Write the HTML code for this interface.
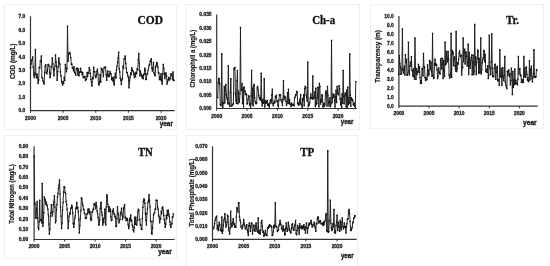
<!DOCTYPE html><html><head><meta charset="utf-8"><style>
html,body{margin:0;padding:0;background:#fff;width:550px;height:266px;overflow:hidden}
svg{display:block;filter:blur(0.3px)}
.t{font-family:"Liberation Sans",sans-serif;font-weight:bold;font-size:4.9px;fill:#1a1a1a;stroke:#1a1a1a;stroke-width:0.28}
.ti{font-family:"Liberation Serif",serif;font-weight:bold;font-size:11.5px;fill:#111;stroke:#111;stroke-width:0.3}
.yr{font-family:"Liberation Sans",sans-serif;font-weight:bold;font-size:7.8px;fill:#222;stroke:#222;stroke-width:0.4}
.yl{font-family:"Liberation Sans",sans-serif;font-weight:bold;font-size:6.3px;fill:#1a1a1a;stroke:#1a1a1a;stroke-width:0.2}
</style></head><body>
<svg width="550" height="266" viewBox="0 0 550 266">
<rect width="550" height="266" fill="#fff"/>
<rect x="4.5" y="4.5" width="172.0" height="125.0" fill="none" stroke="#f0f0f0" stroke-width="1"/>
<path d="M30.5 16.3V110.6H174.7" fill="none" stroke="#333" stroke-width="1.2"/>
<text x="25.3" y="112.3" text-anchor="end" class="t">0.0</text>
<text x="25.3" y="98.9" text-anchor="end" class="t">1.0</text>
<text x="25.3" y="85.4" text-anchor="end" class="t">2.0</text>
<text x="25.3" y="71.9" text-anchor="end" class="t">3.0</text>
<text x="25.3" y="58.5" text-anchor="end" class="t">4.0</text>
<text x="25.3" y="45.0" text-anchor="end" class="t">5.0</text>
<text x="25.3" y="31.5" text-anchor="end" class="t">6.0</text>
<text x="25.3" y="18.1" text-anchor="end" class="t">7.0</text>
<path d="M30.5 110.6v2.2" stroke="#222" stroke-width="0.9"/>
<text x="30.5" y="119.6" text-anchor="middle" class="t">2000</text>
<path d="M63.1 110.6v2.2" stroke="#222" stroke-width="0.9"/>
<text x="63.1" y="119.6" text-anchor="middle" class="t">2005</text>
<path d="M95.8 110.6v2.2" stroke="#222" stroke-width="0.9"/>
<text x="95.8" y="119.6" text-anchor="middle" class="t">2010</text>
<path d="M128.4 110.6v2.2" stroke="#222" stroke-width="0.9"/>
<text x="128.4" y="119.6" text-anchor="middle" class="t">2015</text>
<path d="M161.1 110.6v2.2" stroke="#222" stroke-width="0.9"/>
<text x="161.1" y="119.6" text-anchor="middle" class="t">2020</text>
<path d="M30.50 68.17 L31.04 63.73 L31.59 60.66 L32.13 59.64 L32.68 56.90 L33.22 67.04 L33.77 74.74 L34.31 77.66 L34.85 72.98 L35.40 49.39 L35.94 74.92 L36.49 77.92 L37.03 73.91 L37.57 77.56 L38.12 83.19 L38.66 79.98 L39.21 67.50 L39.75 68.17 L40.30 61.15 L40.84 60.96 L41.38 55.96 L41.93 77.56 L42.47 78.16 L43.02 80.96 L43.56 82.12 L44.10 84.13 L44.65 72.41 L45.19 66.29 L45.74 64.65 L46.28 72.85 L46.83 73.80 L47.37 71.23 L47.91 64.89 L48.46 64.41 L49.00 65.71 L49.55 72.66 L50.09 77.56 L50.63 73.51 L51.18 66.79 L51.72 66.79 L52.27 57.84 L52.81 64.02 L53.36 68.82 L53.90 75.68 L54.44 69.65 L54.99 66.10 L55.53 55.02 L56.08 62.26 L56.62 66.85 L57.16 80.38 L57.71 71.66 L58.25 66.65 L58.80 57.84 L59.34 62.54 L59.89 64.18 L60.43 71.82 L60.97 75.68 L61.52 81.14 L62.06 82.86 L62.61 85.07 L63.15 81.75 L63.69 83.33 L64.24 77.56 L64.78 80.38 L65.33 64.41 L65.87 68.03 L66.41 71.92 L66.96 68.83 L67.50 26.29 L68.05 61.32 L68.59 53.59 L69.14 53.15 L69.68 52.38 L70.22 54.08 L70.77 57.60 L71.31 64.41 L71.86 64.03 L72.40 68.37 L72.94 68.17 L73.49 70.91 L74.03 66.67 L74.58 72.66 L75.12 72.86 L75.67 75.38 L76.21 69.17 L76.75 68.17 L77.30 68.13 L77.84 74.73 L78.39 69.06 L78.93 75.68 L79.47 72.21 L80.02 72.08 L80.56 68.17 L81.11 71.95 L81.65 71.67 L82.20 74.74 L82.74 72.71 L83.28 77.54 L83.83 76.66 L84.37 77.56 L84.92 76.46 L85.46 80.43 L86.00 79.44 L86.55 78.91 L87.09 72.43 L87.64 76.46 L88.18 72.86 L88.73 73.08 L89.27 67.69 L89.81 70.05 L90.36 73.33 L90.90 79.39 L91.45 82.24 L91.99 86.01 L92.53 77.38 L93.08 78.80 L93.62 67.23 L94.17 71.67 L94.71 71.73 L95.26 76.12 L95.80 77.56 L96.34 75.59 L96.89 71.54 L97.43 69.11 L97.98 74.17 L98.52 84.22 L99.07 85.07 L99.61 81.44 L100.15 74.73 L100.70 82.25 L101.24 68.17 L101.79 69.93 L102.33 69.11 L102.87 71.92 L103.42 76.62 L103.96 68.17 L104.51 67.16 L105.05 67.23 L105.59 67.23 L106.14 74.49 L106.68 80.38 L107.23 75.96 L107.77 70.99 L108.32 75.02 L108.86 76.62 L109.40 76.30 L109.95 71.62 L110.49 73.80 L111.04 73.64 L111.58 79.44 L112.12 77.78 L112.67 80.87 L113.21 77.56 L113.76 82.91 L114.30 85.07 L114.85 76.62 L115.39 73.30 L115.93 78.01 L116.48 70.05 L117.02 66.49 L117.57 62.54 L118.11 57.86 L118.66 52.21 L119.20 68.68 L119.74 71.92 L120.29 78.31 L120.83 80.38 L121.38 84.63 L121.92 79.44 L122.46 78.59 L123.01 66.29 L123.55 68.40 L124.10 58.59 L124.64 58.78 L125.19 55.96 L125.73 63.46 L126.27 68.17 L126.82 72.74 L127.36 72.86 L127.91 75.68 L128.45 77.81 L128.99 87.89 L129.54 80.54 L130.08 77.56 L130.63 73.07 L131.17 74.74 L131.72 67.61 L132.26 70.05 L132.80 70.59 L133.35 71.92 L133.89 74.44 L134.44 77.56 L134.98 73.21 L135.52 76.62 L136.07 72.29 L136.61 73.80 L137.16 68.72 L137.70 70.05 L138.25 59.84 L138.79 53.52 L139.33 63.56 L139.88 75.68 L140.42 70.94 L140.97 73.80 L141.51 75.42 L142.05 77.56 L142.60 75.78 L143.14 78.80 L143.69 74.74 L144.23 73.95 L144.77 68.29 L145.32 70.05 L145.86 79.44 L146.41 79.39 L146.95 73.88 L147.50 73.80 L148.04 70.37 L148.58 68.17 L149.13 65.28 L149.67 64.41 L150.22 60.90 L150.76 61.63 L151.31 58.78 L151.85 68.07 L152.39 70.99 L152.94 68.23 L153.48 62.54 L154.03 72.75 L154.57 74.74 L155.11 75.88 L155.66 67.03 L156.20 65.35 L156.75 62.55 L157.29 63.47 L157.83 66.95 L158.38 72.86 L158.92 72.99 L159.47 79.44 L160.01 76.50 L160.56 79.70 L161.10 73.80 L161.64 80.80 L162.19 84.13 L162.73 74.40 L163.28 64.41 L163.82 68.59 L164.37 73.22 L164.91 78.50 L165.45 74.24 L166.00 72.86 L166.54 76.07 L167.09 84.13 L167.63 81.66 L168.17 79.55 L168.72 77.56 L169.26 80.01 L169.81 79.44 L170.35 78.12 L170.90 73.91 L171.44 73.80 L171.98 75.34 L172.53 79.44 L173.07 71.92 L173.62 80.50 L174.16 80.38" fill="none" stroke="#1c1c1c" stroke-width="0.95" stroke-linejoin="miter" stroke-miterlimit="3"/>
<path d="M29.80 67.47h1.4v1.4h-1.4zM30.34 63.03h1.4v1.4h-1.4zM30.89 59.96h1.4v1.4h-1.4zM31.43 58.94h1.4v1.4h-1.4zM31.98 56.20h1.4v1.4h-1.4zM32.52 66.34h1.4v1.4h-1.4zM33.06 74.04h1.4v1.4h-1.4zM33.61 76.96h1.4v1.4h-1.4zM34.15 72.28h1.4v1.4h-1.4zM34.70 48.69h1.4v1.4h-1.4zM35.24 74.22h1.4v1.4h-1.4zM35.79 77.22h1.4v1.4h-1.4zM36.33 73.21h1.4v1.4h-1.4zM36.87 76.86h1.4v1.4h-1.4zM37.42 82.49h1.4v1.4h-1.4zM37.96 79.28h1.4v1.4h-1.4zM38.51 66.80h1.4v1.4h-1.4zM39.05 67.47h1.4v1.4h-1.4zM39.59 60.45h1.4v1.4h-1.4zM40.14 60.26h1.4v1.4h-1.4zM40.68 55.26h1.4v1.4h-1.4zM41.23 76.86h1.4v1.4h-1.4zM41.77 77.46h1.4v1.4h-1.4zM42.32 80.26h1.4v1.4h-1.4zM42.86 81.42h1.4v1.4h-1.4zM43.40 83.43h1.4v1.4h-1.4zM43.95 71.71h1.4v1.4h-1.4zM44.49 65.59h1.4v1.4h-1.4zM45.04 63.95h1.4v1.4h-1.4zM45.58 72.15h1.4v1.4h-1.4zM46.12 73.10h1.4v1.4h-1.4zM46.67 70.53h1.4v1.4h-1.4zM47.21 64.19h1.4v1.4h-1.4zM47.76 63.71h1.4v1.4h-1.4zM48.30 65.01h1.4v1.4h-1.4zM48.85 71.96h1.4v1.4h-1.4zM49.39 76.86h1.4v1.4h-1.4zM49.93 72.81h1.4v1.4h-1.4zM50.48 66.09h1.4v1.4h-1.4zM51.02 66.09h1.4v1.4h-1.4zM51.57 57.14h1.4v1.4h-1.4zM52.11 63.32h1.4v1.4h-1.4zM52.66 68.12h1.4v1.4h-1.4zM53.20 74.98h1.4v1.4h-1.4zM53.74 68.95h1.4v1.4h-1.4zM54.29 65.40h1.4v1.4h-1.4zM54.83 54.32h1.4v1.4h-1.4zM55.38 61.56h1.4v1.4h-1.4zM55.92 66.15h1.4v1.4h-1.4zM56.46 79.68h1.4v1.4h-1.4zM57.01 70.96h1.4v1.4h-1.4zM57.55 65.95h1.4v1.4h-1.4zM58.10 57.14h1.4v1.4h-1.4zM58.64 61.84h1.4v1.4h-1.4zM59.19 63.48h1.4v1.4h-1.4zM59.73 71.12h1.4v1.4h-1.4zM60.27 74.98h1.4v1.4h-1.4zM60.82 80.44h1.4v1.4h-1.4zM61.36 82.16h1.4v1.4h-1.4zM61.91 84.37h1.4v1.4h-1.4zM62.45 81.05h1.4v1.4h-1.4zM62.99 82.63h1.4v1.4h-1.4zM63.54 76.86h1.4v1.4h-1.4zM64.08 79.68h1.4v1.4h-1.4zM64.63 63.71h1.4v1.4h-1.4zM65.17 67.33h1.4v1.4h-1.4zM65.71 71.22h1.4v1.4h-1.4zM66.26 68.13h1.4v1.4h-1.4zM66.80 25.59h1.4v1.4h-1.4zM67.35 60.62h1.4v1.4h-1.4zM67.89 52.89h1.4v1.4h-1.4zM68.44 52.45h1.4v1.4h-1.4zM68.98 51.68h1.4v1.4h-1.4zM69.52 53.38h1.4v1.4h-1.4zM70.07 56.90h1.4v1.4h-1.4zM70.61 63.71h1.4v1.4h-1.4zM71.16 63.33h1.4v1.4h-1.4zM71.70 67.67h1.4v1.4h-1.4zM72.24 67.47h1.4v1.4h-1.4zM72.79 70.21h1.4v1.4h-1.4zM73.33 65.97h1.4v1.4h-1.4zM73.88 71.96h1.4v1.4h-1.4zM74.42 72.16h1.4v1.4h-1.4zM74.97 74.68h1.4v1.4h-1.4zM75.51 68.47h1.4v1.4h-1.4zM76.05 67.47h1.4v1.4h-1.4zM76.60 67.43h1.4v1.4h-1.4zM77.14 74.03h1.4v1.4h-1.4zM77.69 68.36h1.4v1.4h-1.4zM78.23 74.98h1.4v1.4h-1.4zM78.77 71.51h1.4v1.4h-1.4zM79.32 71.38h1.4v1.4h-1.4zM79.86 67.47h1.4v1.4h-1.4zM80.41 71.25h1.4v1.4h-1.4zM80.95 70.97h1.4v1.4h-1.4zM81.50 74.04h1.4v1.4h-1.4zM82.04 72.01h1.4v1.4h-1.4zM82.58 76.84h1.4v1.4h-1.4zM83.13 75.96h1.4v1.4h-1.4zM83.67 76.86h1.4v1.4h-1.4zM84.22 75.76h1.4v1.4h-1.4zM84.76 79.73h1.4v1.4h-1.4zM85.30 78.74h1.4v1.4h-1.4zM85.85 78.21h1.4v1.4h-1.4zM86.39 71.73h1.4v1.4h-1.4zM86.94 75.76h1.4v1.4h-1.4zM87.48 72.16h1.4v1.4h-1.4zM88.03 72.38h1.4v1.4h-1.4zM88.57 66.99h1.4v1.4h-1.4zM89.11 69.35h1.4v1.4h-1.4zM89.66 72.63h1.4v1.4h-1.4zM90.20 78.69h1.4v1.4h-1.4zM90.75 81.54h1.4v1.4h-1.4zM91.29 85.31h1.4v1.4h-1.4zM91.83 76.68h1.4v1.4h-1.4zM92.38 78.10h1.4v1.4h-1.4zM92.92 66.53h1.4v1.4h-1.4zM93.47 70.97h1.4v1.4h-1.4zM94.01 71.03h1.4v1.4h-1.4zM94.56 75.42h1.4v1.4h-1.4zM95.10 76.86h1.4v1.4h-1.4zM95.64 74.89h1.4v1.4h-1.4zM96.19 70.84h1.4v1.4h-1.4zM96.73 68.41h1.4v1.4h-1.4zM97.28 73.47h1.4v1.4h-1.4zM97.82 83.52h1.4v1.4h-1.4zM98.37 84.37h1.4v1.4h-1.4zM98.91 80.74h1.4v1.4h-1.4zM99.45 74.03h1.4v1.4h-1.4zM100.00 81.55h1.4v1.4h-1.4zM100.54 67.47h1.4v1.4h-1.4zM101.09 69.23h1.4v1.4h-1.4zM101.63 68.41h1.4v1.4h-1.4zM102.17 71.22h1.4v1.4h-1.4zM102.72 75.92h1.4v1.4h-1.4zM103.26 67.47h1.4v1.4h-1.4zM103.81 66.46h1.4v1.4h-1.4zM104.35 66.53h1.4v1.4h-1.4zM104.89 66.53h1.4v1.4h-1.4zM105.44 73.79h1.4v1.4h-1.4zM105.98 79.68h1.4v1.4h-1.4zM106.53 75.26h1.4v1.4h-1.4zM107.07 70.29h1.4v1.4h-1.4zM107.62 74.32h1.4v1.4h-1.4zM108.16 75.92h1.4v1.4h-1.4zM108.70 75.60h1.4v1.4h-1.4zM109.25 70.92h1.4v1.4h-1.4zM109.79 73.10h1.4v1.4h-1.4zM110.34 72.94h1.4v1.4h-1.4zM110.88 78.74h1.4v1.4h-1.4zM111.42 77.08h1.4v1.4h-1.4zM111.97 80.17h1.4v1.4h-1.4zM112.51 76.86h1.4v1.4h-1.4zM113.06 82.21h1.4v1.4h-1.4zM113.60 84.37h1.4v1.4h-1.4zM114.15 75.92h1.4v1.4h-1.4zM114.69 72.60h1.4v1.4h-1.4zM115.23 77.31h1.4v1.4h-1.4zM115.78 69.35h1.4v1.4h-1.4zM116.32 65.79h1.4v1.4h-1.4zM116.87 61.84h1.4v1.4h-1.4zM117.41 57.16h1.4v1.4h-1.4zM117.96 51.51h1.4v1.4h-1.4zM118.50 67.98h1.4v1.4h-1.4zM119.04 71.22h1.4v1.4h-1.4zM119.59 77.61h1.4v1.4h-1.4zM120.13 79.68h1.4v1.4h-1.4zM120.68 83.93h1.4v1.4h-1.4zM121.22 78.74h1.4v1.4h-1.4zM121.76 77.89h1.4v1.4h-1.4zM122.31 65.59h1.4v1.4h-1.4zM122.85 67.70h1.4v1.4h-1.4zM123.40 57.89h1.4v1.4h-1.4zM123.94 58.08h1.4v1.4h-1.4zM124.48 55.26h1.4v1.4h-1.4zM125.03 62.76h1.4v1.4h-1.4zM125.57 67.47h1.4v1.4h-1.4zM126.12 72.04h1.4v1.4h-1.4zM126.66 72.16h1.4v1.4h-1.4zM127.21 74.98h1.4v1.4h-1.4zM127.75 77.11h1.4v1.4h-1.4zM128.29 87.19h1.4v1.4h-1.4zM128.84 79.84h1.4v1.4h-1.4zM129.38 76.86h1.4v1.4h-1.4zM129.93 72.37h1.4v1.4h-1.4zM130.47 74.04h1.4v1.4h-1.4zM131.02 66.91h1.4v1.4h-1.4zM131.56 69.35h1.4v1.4h-1.4zM132.10 69.89h1.4v1.4h-1.4zM132.65 71.22h1.4v1.4h-1.4zM133.19 73.74h1.4v1.4h-1.4zM133.74 76.86h1.4v1.4h-1.4zM134.28 72.51h1.4v1.4h-1.4zM134.82 75.92h1.4v1.4h-1.4zM135.37 71.59h1.4v1.4h-1.4zM135.91 73.10h1.4v1.4h-1.4zM136.46 68.02h1.4v1.4h-1.4zM137.00 69.35h1.4v1.4h-1.4zM137.55 59.14h1.4v1.4h-1.4zM138.09 52.82h1.4v1.4h-1.4zM138.63 62.86h1.4v1.4h-1.4zM139.18 74.98h1.4v1.4h-1.4zM139.72 70.24h1.4v1.4h-1.4zM140.27 73.10h1.4v1.4h-1.4zM140.81 74.72h1.4v1.4h-1.4zM141.35 76.86h1.4v1.4h-1.4zM141.90 75.08h1.4v1.4h-1.4zM142.44 78.10h1.4v1.4h-1.4zM142.99 74.04h1.4v1.4h-1.4zM143.53 73.25h1.4v1.4h-1.4zM144.07 67.59h1.4v1.4h-1.4zM144.62 69.35h1.4v1.4h-1.4zM145.16 78.74h1.4v1.4h-1.4zM145.71 78.69h1.4v1.4h-1.4zM146.25 73.18h1.4v1.4h-1.4zM146.80 73.10h1.4v1.4h-1.4zM147.34 69.67h1.4v1.4h-1.4zM147.88 67.47h1.4v1.4h-1.4zM148.43 64.58h1.4v1.4h-1.4zM148.97 63.71h1.4v1.4h-1.4zM149.52 60.20h1.4v1.4h-1.4zM150.06 60.93h1.4v1.4h-1.4zM150.61 58.08h1.4v1.4h-1.4zM151.15 67.37h1.4v1.4h-1.4zM151.69 70.29h1.4v1.4h-1.4zM152.24 67.53h1.4v1.4h-1.4zM152.78 61.84h1.4v1.4h-1.4zM153.33 72.05h1.4v1.4h-1.4zM153.87 74.04h1.4v1.4h-1.4zM154.41 75.18h1.4v1.4h-1.4zM154.96 66.33h1.4v1.4h-1.4zM155.50 64.65h1.4v1.4h-1.4zM156.05 61.85h1.4v1.4h-1.4zM156.59 62.77h1.4v1.4h-1.4zM157.13 66.25h1.4v1.4h-1.4zM157.68 72.16h1.4v1.4h-1.4zM158.22 72.29h1.4v1.4h-1.4zM158.77 78.74h1.4v1.4h-1.4zM159.31 75.80h1.4v1.4h-1.4zM159.86 79.00h1.4v1.4h-1.4zM160.40 73.10h1.4v1.4h-1.4zM160.94 80.10h1.4v1.4h-1.4zM161.49 83.43h1.4v1.4h-1.4zM162.03 73.70h1.4v1.4h-1.4zM162.58 63.71h1.4v1.4h-1.4zM163.12 67.89h1.4v1.4h-1.4zM163.67 72.52h1.4v1.4h-1.4zM164.21 77.80h1.4v1.4h-1.4zM164.75 73.54h1.4v1.4h-1.4zM165.30 72.16h1.4v1.4h-1.4zM165.84 75.37h1.4v1.4h-1.4zM166.39 83.43h1.4v1.4h-1.4zM166.93 80.96h1.4v1.4h-1.4zM167.47 78.85h1.4v1.4h-1.4zM168.02 76.86h1.4v1.4h-1.4zM168.56 79.31h1.4v1.4h-1.4zM169.11 78.74h1.4v1.4h-1.4zM169.65 77.42h1.4v1.4h-1.4zM170.20 73.21h1.4v1.4h-1.4zM170.74 73.10h1.4v1.4h-1.4zM171.28 74.64h1.4v1.4h-1.4zM171.83 78.74h1.4v1.4h-1.4zM172.37 71.22h1.4v1.4h-1.4zM172.92 79.80h1.4v1.4h-1.4zM173.46 79.68h1.4v1.4h-1.4z" fill="#111"/>
<text x="137.5" y="23.6" class="ti" textLength="25.4" lengthAdjust="spacingAndGlyphs">COD</text>
<text x="159.7" y="126.1" class="yr" textLength="13.2" lengthAdjust="spacingAndGlyphs">year</text>
<text transform="translate(12.8 61.3) rotate(-90)" dy="0.36em" text-anchor="middle" class="yl" textLength="35.6" lengthAdjust="spacingAndGlyphs">COD (mg/L)</text>
<rect x="186" y="4.5" width="173.5" height="125.0" fill="none" stroke="#f0f0f0" stroke-width="1"/>
<path d="M216.7 14.5V108.5H357.0" fill="none" stroke="#333" stroke-width="1.2"/>
<text x="211.6" y="110.2" text-anchor="end" class="t">0.000</text>
<text x="211.6" y="96.8" text-anchor="end" class="t">0.005</text>
<text x="211.6" y="83.4" text-anchor="end" class="t">0.010</text>
<text x="211.6" y="70.0" text-anchor="end" class="t">0.015</text>
<text x="211.6" y="56.5" text-anchor="end" class="t">0.020</text>
<text x="211.6" y="43.1" text-anchor="end" class="t">0.025</text>
<text x="211.6" y="29.7" text-anchor="end" class="t">0.030</text>
<text x="211.6" y="16.2" text-anchor="end" class="t">0.035</text>
<path d="M216.7 108.5v2.2" stroke="#222" stroke-width="0.9"/>
<text x="216.7" y="117.5" text-anchor="middle" class="t">2000</text>
<path d="M247.0 108.5v2.2" stroke="#222" stroke-width="0.9"/>
<text x="247.0" y="117.5" text-anchor="middle" class="t">2005</text>
<path d="M277.4 108.5v2.2" stroke="#222" stroke-width="0.9"/>
<text x="277.4" y="117.5" text-anchor="middle" class="t">2010</text>
<path d="M307.8 108.5v2.2" stroke="#222" stroke-width="0.9"/>
<text x="307.8" y="117.5" text-anchor="middle" class="t">2015</text>
<path d="M338.1 108.5v2.2" stroke="#222" stroke-width="0.9"/>
<text x="338.1" y="117.5" text-anchor="middle" class="t">2020</text>
<path d="M217.71 97.62 L218.22 82.57 L218.72 78.36 L219.23 78.81 L219.73 84.06 L220.24 104.33 L220.75 105.15 L221.25 105.64 L221.76 53.79 L222.26 102.32 L222.77 107.23 L223.28 103.27 L223.78 103.66 L224.29 86.34 L224.79 102.91 L225.30 90.26 L225.80 84.45 L226.31 94.45 L226.82 97.62 L227.32 99.42 L227.83 103.92 L228.33 65.64 L228.84 103.93 L229.35 103.27 L229.85 106.36 L230.36 92.49 L230.86 78.81 L231.37 106.09 L231.88 105.69 L232.38 105.15 L232.89 104.43 L233.39 103.49 L233.90 68.47 L234.40 69.31 L234.91 67.52 L235.42 93.51 L235.92 100.44 L236.43 103.28 L236.93 80.82 L237.44 70.35 L237.94 103.71 L238.45 91.14 L238.96 99.50 L239.46 102.37 L239.97 93.53 L240.47 27.46 L240.98 90.60 L241.49 90.10 L241.99 83.53 L242.50 103.51 L243.00 88.22 L243.51 106.70 L244.01 86.90 L244.52 91.69 L245.03 91.04 L245.53 94.51 L246.04 93.62 L246.54 94.80 L247.05 103.95 L247.56 103.27 L248.06 99.54 L248.57 95.74 L249.07 96.89 L249.58 105.15 L250.08 103.87 L250.59 106.95 L251.10 95.85 L251.60 70.35 L252.11 104.16 L252.61 88.22 L253.12 105.69 L253.63 86.03 L254.13 84.45 L254.64 97.90 L255.14 101.38 L255.65 103.26 L256.15 103.91 L256.66 103.07 L257.17 87.90 L257.67 86.34 L258.18 89.88 L258.68 95.56 L259.19 97.62 L259.70 99.51 L260.20 97.33 L260.71 100.05 L261.21 73.17 L261.72 101.34 L262.23 105.88 L262.73 99.50 L263.24 103.20 L263.74 102.57 L264.25 78.81 L264.75 106.96 L265.26 100.69 L265.77 103.27 L266.27 101.69 L266.78 102.47 L267.28 100.44 L267.79 105.18 L268.29 104.04 L268.80 105.15 L269.31 107.15 L269.81 103.48 L270.32 100.44 L270.82 99.65 L271.33 102.73 L271.84 95.19 L272.34 89.16 L272.85 103.63 L273.35 105.79 L273.86 103.27 L274.37 101.03 L274.87 102.62 L275.38 96.33 L275.88 97.62 L276.39 95.29 L276.89 101.52 L277.40 101.07 L277.91 105.15 L278.41 106.90 L278.92 100.28 L279.42 94.73 L279.93 94.80 L280.44 94.75 L280.94 100.06 L281.45 100.44 L281.95 102.30 L282.46 105.63 L282.96 99.33 L283.47 80.69 L283.98 99.83 L284.48 96.32 L284.99 97.62 L285.49 97.26 L286.00 101.38 L286.50 105.22 L287.01 101.38 L287.52 92.60 L288.02 103.58 L288.53 89.16 L289.03 103.21 L289.54 99.55 L290.05 104.33 L290.55 104.21 L291.06 106.52 L291.56 103.06 L292.07 105.10 L292.57 105.15 L293.08 104.87 L293.59 104.22 L294.09 105.91 L294.60 97.62 L295.10 97.13 L295.61 94.80 L296.12 95.09 L296.62 91.57 L297.13 91.98 L297.63 103.85 L298.14 102.60 L298.64 105.15 L299.15 104.73 L299.66 99.15 L300.16 103.33 L300.67 94.80 L301.17 104.32 L301.68 105.15 L302.19 107.60 L302.69 98.46 L303.20 100.38 L303.70 94.80 L304.21 105.79 L304.71 88.59 L305.22 86.34 L305.73 87.59 L306.23 95.10 L306.74 97.62 L307.24 101.37 L307.75 62.26 L308.26 106.43 L308.76 104.19 L309.27 105.15 L309.77 102.65 L310.28 98.18 L310.78 93.86 L311.29 97.78 L311.80 97.62 L312.30 99.05 L312.81 75.99 L313.31 98.90 L313.82 97.32 L314.33 97.62 L314.83 92.04 L315.34 106.44 L315.84 88.22 L316.35 104.62 L316.86 103.27 L317.36 97.72 L317.87 87.28 L318.37 87.81 L318.88 106.77 L319.38 83.51 L319.89 86.45 L320.40 104.16 L320.90 99.50 L321.41 102.00 L321.91 94.82 L322.42 95.74 L322.93 107.17 L323.43 105.19 L323.94 103.27 L324.44 106.38 L324.95 104.13 L325.45 93.86 L325.96 90.90 L326.47 92.71 L326.97 106.00 L327.48 86.34 L327.98 95.51 L328.49 102.50 L329.00 106.09 L329.50 101.55 L330.01 97.62 L330.51 106.62 L331.02 103.69 L331.52 40.44 L332.03 102.64 L332.54 97.68 L333.04 93.86 L333.55 97.04 L334.05 94.58 L334.56 101.38 L335.06 107.08 L335.57 96.68 L336.08 90.10 L336.58 102.50 L337.09 86.41 L337.59 93.39 L338.10 93.86 L338.61 94.82 L339.11 85.71 L339.62 89.16 L340.12 98.49 L340.63 105.15 L341.13 98.57 L341.64 107.24 L342.15 93.86 L342.65 103.06 L343.16 70.35 L343.66 96.37 L344.17 103.72 L344.68 95.74 L345.18 93.04 L345.69 93.99 L346.19 106.97 L346.70 90.10 L347.21 107.18 L347.71 87.28 L348.22 104.91 L348.72 97.62 L349.23 103.44 L349.73 53.98 L350.24 94.94 L350.75 106.41 L351.25 97.62 L351.76 99.70 L352.26 99.22 L352.77 100.44 L353.27 104.33 L353.78 105.15 L354.29 102.93 L354.79 106.21 L355.30 107.09 L355.80 81.63" fill="none" stroke="#1c1c1c" stroke-width="0.95" stroke-linejoin="miter" stroke-miterlimit="3"/>
<path d="M217.01 96.92h1.4v1.4h-1.4zM217.52 81.87h1.4v1.4h-1.4zM218.02 77.66h1.4v1.4h-1.4zM218.53 78.11h1.4v1.4h-1.4zM219.03 83.36h1.4v1.4h-1.4zM219.54 103.63h1.4v1.4h-1.4zM220.05 104.45h1.4v1.4h-1.4zM220.55 104.94h1.4v1.4h-1.4zM221.06 53.09h1.4v1.4h-1.4zM221.56 101.62h1.4v1.4h-1.4zM222.07 106.53h1.4v1.4h-1.4zM222.58 102.57h1.4v1.4h-1.4zM223.08 102.96h1.4v1.4h-1.4zM223.59 85.64h1.4v1.4h-1.4zM224.09 102.21h1.4v1.4h-1.4zM224.60 89.56h1.4v1.4h-1.4zM225.10 83.75h1.4v1.4h-1.4zM225.61 93.75h1.4v1.4h-1.4zM226.12 96.92h1.4v1.4h-1.4zM226.62 98.72h1.4v1.4h-1.4zM227.13 103.22h1.4v1.4h-1.4zM227.63 64.94h1.4v1.4h-1.4zM228.14 103.23h1.4v1.4h-1.4zM228.65 102.57h1.4v1.4h-1.4zM229.15 105.66h1.4v1.4h-1.4zM229.66 91.79h1.4v1.4h-1.4zM230.16 78.11h1.4v1.4h-1.4zM230.67 105.39h1.4v1.4h-1.4zM231.18 104.99h1.4v1.4h-1.4zM231.68 104.45h1.4v1.4h-1.4zM232.19 103.73h1.4v1.4h-1.4zM232.69 102.79h1.4v1.4h-1.4zM233.20 67.77h1.4v1.4h-1.4zM233.70 68.61h1.4v1.4h-1.4zM234.21 66.82h1.4v1.4h-1.4zM234.72 92.81h1.4v1.4h-1.4zM235.22 99.74h1.4v1.4h-1.4zM235.73 102.58h1.4v1.4h-1.4zM236.23 80.12h1.4v1.4h-1.4zM236.74 69.65h1.4v1.4h-1.4zM237.25 103.01h1.4v1.4h-1.4zM237.75 90.44h1.4v1.4h-1.4zM238.26 98.80h1.4v1.4h-1.4zM238.76 101.67h1.4v1.4h-1.4zM239.27 92.83h1.4v1.4h-1.4zM239.77 26.76h1.4v1.4h-1.4zM240.28 89.90h1.4v1.4h-1.4zM240.79 89.40h1.4v1.4h-1.4zM241.29 82.83h1.4v1.4h-1.4zM241.80 102.81h1.4v1.4h-1.4zM242.30 87.52h1.4v1.4h-1.4zM242.81 106.00h1.4v1.4h-1.4zM243.31 86.20h1.4v1.4h-1.4zM243.82 90.99h1.4v1.4h-1.4zM244.33 90.34h1.4v1.4h-1.4zM244.83 93.81h1.4v1.4h-1.4zM245.34 92.92h1.4v1.4h-1.4zM245.84 94.10h1.4v1.4h-1.4zM246.35 103.25h1.4v1.4h-1.4zM246.86 102.57h1.4v1.4h-1.4zM247.36 98.84h1.4v1.4h-1.4zM247.87 95.04h1.4v1.4h-1.4zM248.37 96.19h1.4v1.4h-1.4zM248.88 104.45h1.4v1.4h-1.4zM249.38 103.17h1.4v1.4h-1.4zM249.89 106.25h1.4v1.4h-1.4zM250.40 95.15h1.4v1.4h-1.4zM250.90 69.65h1.4v1.4h-1.4zM251.41 103.46h1.4v1.4h-1.4zM251.91 87.52h1.4v1.4h-1.4zM252.42 104.99h1.4v1.4h-1.4zM252.93 85.33h1.4v1.4h-1.4zM253.43 83.75h1.4v1.4h-1.4zM253.94 97.20h1.4v1.4h-1.4zM254.44 100.68h1.4v1.4h-1.4zM254.95 102.56h1.4v1.4h-1.4zM255.45 103.21h1.4v1.4h-1.4zM255.96 102.37h1.4v1.4h-1.4zM256.47 87.20h1.4v1.4h-1.4zM256.97 85.64h1.4v1.4h-1.4zM257.48 89.18h1.4v1.4h-1.4zM257.98 94.86h1.4v1.4h-1.4zM258.49 96.92h1.4v1.4h-1.4zM259.00 98.81h1.4v1.4h-1.4zM259.50 96.63h1.4v1.4h-1.4zM260.01 99.35h1.4v1.4h-1.4zM260.51 72.47h1.4v1.4h-1.4zM261.02 100.64h1.4v1.4h-1.4zM261.53 105.18h1.4v1.4h-1.4zM262.03 98.80h1.4v1.4h-1.4zM262.54 102.50h1.4v1.4h-1.4zM263.04 101.87h1.4v1.4h-1.4zM263.55 78.11h1.4v1.4h-1.4zM264.05 106.26h1.4v1.4h-1.4zM264.56 99.99h1.4v1.4h-1.4zM265.07 102.57h1.4v1.4h-1.4zM265.57 100.99h1.4v1.4h-1.4zM266.08 101.77h1.4v1.4h-1.4zM266.58 99.74h1.4v1.4h-1.4zM267.09 104.48h1.4v1.4h-1.4zM267.59 103.34h1.4v1.4h-1.4zM268.10 104.45h1.4v1.4h-1.4zM268.61 106.45h1.4v1.4h-1.4zM269.11 102.78h1.4v1.4h-1.4zM269.62 99.74h1.4v1.4h-1.4zM270.12 98.95h1.4v1.4h-1.4zM270.63 102.03h1.4v1.4h-1.4zM271.14 94.49h1.4v1.4h-1.4zM271.64 88.46h1.4v1.4h-1.4zM272.15 102.93h1.4v1.4h-1.4zM272.65 105.09h1.4v1.4h-1.4zM273.16 102.57h1.4v1.4h-1.4zM273.67 100.33h1.4v1.4h-1.4zM274.17 101.92h1.4v1.4h-1.4zM274.68 95.63h1.4v1.4h-1.4zM275.18 96.92h1.4v1.4h-1.4zM275.69 94.59h1.4v1.4h-1.4zM276.19 100.82h1.4v1.4h-1.4zM276.70 100.37h1.4v1.4h-1.4zM277.21 104.45h1.4v1.4h-1.4zM277.71 106.20h1.4v1.4h-1.4zM278.22 99.58h1.4v1.4h-1.4zM278.72 94.03h1.4v1.4h-1.4zM279.23 94.10h1.4v1.4h-1.4zM279.74 94.05h1.4v1.4h-1.4zM280.24 99.36h1.4v1.4h-1.4zM280.75 99.74h1.4v1.4h-1.4zM281.25 101.60h1.4v1.4h-1.4zM281.76 104.93h1.4v1.4h-1.4zM282.26 98.63h1.4v1.4h-1.4zM282.77 79.99h1.4v1.4h-1.4zM283.28 99.13h1.4v1.4h-1.4zM283.78 95.62h1.4v1.4h-1.4zM284.29 96.92h1.4v1.4h-1.4zM284.79 96.56h1.4v1.4h-1.4zM285.30 100.68h1.4v1.4h-1.4zM285.81 104.52h1.4v1.4h-1.4zM286.31 100.68h1.4v1.4h-1.4zM286.82 91.90h1.4v1.4h-1.4zM287.32 102.88h1.4v1.4h-1.4zM287.83 88.46h1.4v1.4h-1.4zM288.33 102.51h1.4v1.4h-1.4zM288.84 98.85h1.4v1.4h-1.4zM289.35 103.63h1.4v1.4h-1.4zM289.85 103.51h1.4v1.4h-1.4zM290.36 105.82h1.4v1.4h-1.4zM290.86 102.36h1.4v1.4h-1.4zM291.37 104.40h1.4v1.4h-1.4zM291.88 104.45h1.4v1.4h-1.4zM292.38 104.17h1.4v1.4h-1.4zM292.89 103.52h1.4v1.4h-1.4zM293.39 105.21h1.4v1.4h-1.4zM293.90 96.92h1.4v1.4h-1.4zM294.40 96.43h1.4v1.4h-1.4zM294.91 94.10h1.4v1.4h-1.4zM295.42 94.39h1.4v1.4h-1.4zM295.92 90.87h1.4v1.4h-1.4zM296.43 91.28h1.4v1.4h-1.4zM296.93 103.15h1.4v1.4h-1.4zM297.44 101.90h1.4v1.4h-1.4zM297.94 104.45h1.4v1.4h-1.4zM298.45 104.03h1.4v1.4h-1.4zM298.96 98.45h1.4v1.4h-1.4zM299.46 102.63h1.4v1.4h-1.4zM299.97 94.10h1.4v1.4h-1.4zM300.47 103.62h1.4v1.4h-1.4zM300.98 104.45h1.4v1.4h-1.4zM301.49 106.90h1.4v1.4h-1.4zM301.99 97.76h1.4v1.4h-1.4zM302.50 99.68h1.4v1.4h-1.4zM303.00 94.10h1.4v1.4h-1.4zM303.51 105.09h1.4v1.4h-1.4zM304.01 87.89h1.4v1.4h-1.4zM304.52 85.64h1.4v1.4h-1.4zM305.03 86.89h1.4v1.4h-1.4zM305.53 94.40h1.4v1.4h-1.4zM306.04 96.92h1.4v1.4h-1.4zM306.54 100.67h1.4v1.4h-1.4zM307.05 61.56h1.4v1.4h-1.4zM307.56 105.73h1.4v1.4h-1.4zM308.06 103.49h1.4v1.4h-1.4zM308.57 104.45h1.4v1.4h-1.4zM309.07 101.95h1.4v1.4h-1.4zM309.58 97.48h1.4v1.4h-1.4zM310.08 93.16h1.4v1.4h-1.4zM310.59 97.08h1.4v1.4h-1.4zM311.10 96.92h1.4v1.4h-1.4zM311.60 98.35h1.4v1.4h-1.4zM312.11 75.29h1.4v1.4h-1.4zM312.61 98.20h1.4v1.4h-1.4zM313.12 96.62h1.4v1.4h-1.4zM313.63 96.92h1.4v1.4h-1.4zM314.13 91.34h1.4v1.4h-1.4zM314.64 105.74h1.4v1.4h-1.4zM315.14 87.52h1.4v1.4h-1.4zM315.65 103.92h1.4v1.4h-1.4zM316.16 102.57h1.4v1.4h-1.4zM316.66 97.02h1.4v1.4h-1.4zM317.17 86.58h1.4v1.4h-1.4zM317.67 87.11h1.4v1.4h-1.4zM318.18 106.07h1.4v1.4h-1.4zM318.68 82.81h1.4v1.4h-1.4zM319.19 85.75h1.4v1.4h-1.4zM319.70 103.46h1.4v1.4h-1.4zM320.20 98.80h1.4v1.4h-1.4zM320.71 101.30h1.4v1.4h-1.4zM321.21 94.12h1.4v1.4h-1.4zM321.72 95.04h1.4v1.4h-1.4zM322.23 106.47h1.4v1.4h-1.4zM322.73 104.49h1.4v1.4h-1.4zM323.24 102.57h1.4v1.4h-1.4zM323.74 105.68h1.4v1.4h-1.4zM324.25 103.43h1.4v1.4h-1.4zM324.75 93.16h1.4v1.4h-1.4zM325.26 90.20h1.4v1.4h-1.4zM325.77 92.01h1.4v1.4h-1.4zM326.27 105.30h1.4v1.4h-1.4zM326.78 85.64h1.4v1.4h-1.4zM327.28 94.81h1.4v1.4h-1.4zM327.79 101.80h1.4v1.4h-1.4zM328.30 105.39h1.4v1.4h-1.4zM328.80 100.85h1.4v1.4h-1.4zM329.31 96.92h1.4v1.4h-1.4zM329.81 105.92h1.4v1.4h-1.4zM330.32 102.99h1.4v1.4h-1.4zM330.82 39.74h1.4v1.4h-1.4zM331.33 101.94h1.4v1.4h-1.4zM331.84 96.98h1.4v1.4h-1.4zM332.34 93.16h1.4v1.4h-1.4zM332.85 96.34h1.4v1.4h-1.4zM333.35 93.88h1.4v1.4h-1.4zM333.86 100.68h1.4v1.4h-1.4zM334.37 106.38h1.4v1.4h-1.4zM334.87 95.98h1.4v1.4h-1.4zM335.38 89.40h1.4v1.4h-1.4zM335.88 101.80h1.4v1.4h-1.4zM336.39 85.71h1.4v1.4h-1.4zM336.89 92.69h1.4v1.4h-1.4zM337.40 93.16h1.4v1.4h-1.4zM337.91 94.12h1.4v1.4h-1.4zM338.41 85.01h1.4v1.4h-1.4zM338.92 88.46h1.4v1.4h-1.4zM339.42 97.79h1.4v1.4h-1.4zM339.93 104.45h1.4v1.4h-1.4zM340.44 97.87h1.4v1.4h-1.4zM340.94 106.54h1.4v1.4h-1.4zM341.45 93.16h1.4v1.4h-1.4zM341.95 102.36h1.4v1.4h-1.4zM342.46 69.65h1.4v1.4h-1.4zM342.96 95.67h1.4v1.4h-1.4zM343.47 103.02h1.4v1.4h-1.4zM343.98 95.04h1.4v1.4h-1.4zM344.48 92.34h1.4v1.4h-1.4zM344.99 93.29h1.4v1.4h-1.4zM345.49 106.27h1.4v1.4h-1.4zM346.00 89.40h1.4v1.4h-1.4zM346.51 106.48h1.4v1.4h-1.4zM347.01 86.58h1.4v1.4h-1.4zM347.52 104.21h1.4v1.4h-1.4zM348.02 96.92h1.4v1.4h-1.4zM348.53 102.74h1.4v1.4h-1.4zM349.03 53.28h1.4v1.4h-1.4zM349.54 94.24h1.4v1.4h-1.4zM350.05 105.71h1.4v1.4h-1.4zM350.55 96.92h1.4v1.4h-1.4zM351.06 99.00h1.4v1.4h-1.4zM351.56 98.52h1.4v1.4h-1.4zM352.07 99.74h1.4v1.4h-1.4zM352.57 103.63h1.4v1.4h-1.4zM353.08 104.45h1.4v1.4h-1.4zM353.59 102.23h1.4v1.4h-1.4zM354.09 105.51h1.4v1.4h-1.4zM354.60 106.39h1.4v1.4h-1.4zM355.10 80.93h1.4v1.4h-1.4z" fill="#111"/>
<text x="312.2" y="24.1" class="ti" textLength="23" lengthAdjust="spacingAndGlyphs">Ch-a</text>
<text x="340.8" y="123.8" class="yr" textLength="12.6" lengthAdjust="spacingAndGlyphs">year</text>
<text transform="translate(193 58.7) rotate(-90)" dy="0.36em" text-anchor="middle" class="yl" textLength="57.8" lengthAdjust="spacingAndGlyphs">Chlorophyll a (mg/L)</text>
<rect x="370.5" y="4.5" width="173.0" height="124.0" fill="none" stroke="#f0f0f0" stroke-width="1"/>
<path d="M398.9 16.0V106.1H537.8" fill="none" stroke="#333" stroke-width="1.2"/>
<text x="393.8" y="107.8" text-anchor="end" class="t">0.0</text>
<text x="393.8" y="98.8" text-anchor="end" class="t">1.0</text>
<text x="393.8" y="89.8" text-anchor="end" class="t">2.0</text>
<text x="393.8" y="80.8" text-anchor="end" class="t">3.0</text>
<text x="393.8" y="71.8" text-anchor="end" class="t">4.0</text>
<text x="393.8" y="62.8" text-anchor="end" class="t">5.0</text>
<text x="393.8" y="53.8" text-anchor="end" class="t">6.0</text>
<text x="393.8" y="44.8" text-anchor="end" class="t">7.0</text>
<text x="393.8" y="35.8" text-anchor="end" class="t">8.0</text>
<text x="393.8" y="26.8" text-anchor="end" class="t">9.0</text>
<text x="393.8" y="17.8" text-anchor="end" class="t">10.0</text>
<path d="M398.9 106.1v2.2" stroke="#222" stroke-width="0.9"/>
<text x="398.9" y="114.5" text-anchor="middle" class="t">2000</text>
<path d="M429.0 106.1v2.2" stroke="#222" stroke-width="0.9"/>
<text x="429.0" y="114.5" text-anchor="middle" class="t">2005</text>
<path d="M459.1 106.1v2.2" stroke="#222" stroke-width="0.9"/>
<text x="459.1" y="114.5" text-anchor="middle" class="t">2010</text>
<path d="M489.3 106.1v2.2" stroke="#222" stroke-width="0.9"/>
<text x="489.3" y="114.5" text-anchor="middle" class="t">2015</text>
<path d="M519.4 106.1v2.2" stroke="#222" stroke-width="0.9"/>
<text x="519.4" y="114.5" text-anchor="middle" class="t">2020</text>
<path d="M398.90 74.56 L399.40 55.64 L399.90 63.69 L400.41 66.87 L400.91 74.32 L401.41 73.95 L401.91 68.88 L402.41 28.88 L402.92 70.32 L403.42 73.11 L403.92 68.73 L404.42 66.27 L404.92 75.16 L405.43 54.77 L405.93 62.38 L406.43 59.56 L406.93 74.77 L407.44 75.32 L407.94 72.89 L408.44 42.31 L408.94 71.06 L409.44 74.89 L409.95 65.93 L410.45 62.18 L410.95 66.00 L411.45 56.61 L411.95 70.55 L412.46 70.49 L412.96 76.35 L413.46 68.89 L413.96 76.20 L414.46 79.10 L414.97 38.07 L415.47 68.24 L415.97 79.22 L416.47 68.77 L416.97 74.46 L417.48 71.54 L417.98 71.58 L418.48 64.45 L418.98 72.40 L419.49 66.68 L419.99 77.66 L420.49 83.47 L420.99 80.73 L421.49 83.16 L422.00 68.50 L422.50 68.45 L423.00 75.82 L423.50 53.46 L424.00 66.63 L424.51 67.27 L425.01 77.48 L425.51 80.61 L426.01 77.58 L426.51 79.37 L427.02 79.80 L427.52 65.06 L428.02 76.05 L428.52 70.31 L429.02 74.50 L429.53 60.56 L430.03 61.24 L430.53 69.67 L431.03 62.55 L431.54 71.46 L432.04 76.34 L432.54 33.39 L433.04 75.23 L433.54 78.66 L434.05 77.46 L434.55 64.03 L435.05 59.28 L435.55 65.41 L436.05 63.92 L436.56 65.29 L437.06 69.79 L437.56 78.57 L438.06 76.39 L438.56 67.95 L439.07 72.05 L439.57 72.69 L440.07 74.11 L440.57 60.22 L441.07 58.41 L441.58 68.99 L442.08 64.23 L442.58 58.40 L443.08 78.44 L443.59 60.66 L444.09 70.76 L444.59 76.47 L445.09 42.31 L445.59 64.77 L446.10 63.62 L446.60 51.34 L447.10 61.98 L447.60 58.69 L448.10 51.56 L448.61 59.65 L449.11 74.95 L449.61 77.98 L450.11 77.38 L450.61 74.62 L451.12 33.39 L451.62 77.18 L452.12 50.35 L452.62 54.34 L453.12 52.09 L453.63 65.63 L454.13 59.10 L454.63 56.94 L455.13 66.02 L455.64 71.09 L456.14 31.50 L456.64 71.49 L457.14 68.65 L457.64 62.68 L458.15 64.06 L458.65 59.21 L459.15 53.31 L459.65 50.86 L460.15 56.11 L460.66 56.80 L461.16 54.99 L461.66 75.13 L462.16 67.35 L462.66 67.49 L463.17 38.07 L463.67 61.87 L464.17 52.55 L464.67 49.08 L465.17 64.07 L465.68 52.07 L466.18 51.91 L466.68 56.36 L467.18 66.14 L467.69 62.32 L468.19 44.20 L468.69 74.44 L469.19 52.46 L469.69 65.67 L470.20 68.37 L470.70 60.14 L471.20 57.63 L471.70 54.91 L472.20 74.71 L472.71 62.52 L473.21 55.29 L473.71 74.67 L474.21 71.92 L474.71 24.38 L475.22 65.13 L475.72 57.00 L476.22 74.46 L476.72 62.34 L477.22 58.78 L477.73 49.87 L478.23 51.40 L478.73 73.32 L479.23 58.48 L479.74 72.59 L480.24 71.97 L480.74 38.07 L481.24 73.97 L481.74 69.88 L482.25 62.80 L482.75 59.72 L483.25 57.72 L483.75 50.53 L484.25 51.57 L484.76 61.82 L485.26 54.52 L485.76 70.64 L486.26 72.00 L486.76 69.11 L487.27 72.37 L487.77 65.71 L488.27 78.58 L488.77 75.07 L489.27 35.28 L489.78 66.78 L490.28 68.66 L490.78 74.50 L491.28 62.03 L491.79 33.66 L492.29 68.30 L492.79 76.46 L493.29 75.59 L493.79 76.83 L494.30 68.31 L494.80 64.86 L495.30 64.15 L495.80 79.31 L496.30 72.31 L496.81 67.70 L497.31 66.28 L497.81 80.69 L498.31 79.55 L498.81 80.06 L499.32 85.38 L499.82 49.79 L500.32 76.01 L500.82 76.99 L501.32 68.37 L501.83 85.36 L502.33 75.84 L502.83 67.82 L503.33 76.94 L503.84 80.66 L504.34 75.64 L504.84 56.54 L505.34 82.29 L505.84 85.16 L506.35 87.08 L506.85 88.53 L507.35 71.11 L507.85 74.94 L508.35 72.16 L508.86 69.90 L509.36 76.25 L509.86 73.71 L510.36 84.84 L510.86 80.59 L511.37 68.26 L511.87 74.54 L512.37 94.66 L512.87 71.38 L513.38 87.31 L513.88 79.64 L514.38 84.87 L514.88 69.00 L515.38 83.70 L515.89 80.37 L516.39 83.50 L516.89 83.52 L517.39 84.68 L517.89 79.23 L518.40 56.54 L518.90 74.02 L519.40 69.12 L519.90 68.75 L520.40 75.69 L520.91 74.88 L521.41 82.37 L521.91 79.45 L522.41 80.16 L522.91 82.55 L523.42 81.97 L523.92 56.54 L524.42 76.58 L524.92 67.91 L525.42 77.18 L525.93 72.17 L526.43 67.00 L526.93 74.43 L527.43 80.01 L527.94 77.67 L528.44 81.53 L528.94 80.77 L529.44 60.60 L529.94 79.87 L530.45 69.03 L530.95 76.11 L531.45 66.19 L531.95 78.46 L532.45 81.69 L532.96 77.01 L533.46 74.13 L533.96 49.79 L534.46 76.55 L534.96 77.46 L535.47 77.15 L535.97 76.76 L536.47 69.75 L536.97 70.12" fill="none" stroke="#1c1c1c" stroke-width="0.95" stroke-linejoin="miter" stroke-miterlimit="3"/>
<path d="M398.20 73.86h1.4v1.4h-1.4zM398.70 54.94h1.4v1.4h-1.4zM399.20 62.99h1.4v1.4h-1.4zM399.71 66.17h1.4v1.4h-1.4zM400.21 73.62h1.4v1.4h-1.4zM400.71 73.25h1.4v1.4h-1.4zM401.21 68.18h1.4v1.4h-1.4zM401.71 28.18h1.4v1.4h-1.4zM402.22 69.62h1.4v1.4h-1.4zM402.72 72.41h1.4v1.4h-1.4zM403.22 68.03h1.4v1.4h-1.4zM403.72 65.57h1.4v1.4h-1.4zM404.22 74.46h1.4v1.4h-1.4zM404.73 54.07h1.4v1.4h-1.4zM405.23 61.68h1.4v1.4h-1.4zM405.73 58.86h1.4v1.4h-1.4zM406.23 74.07h1.4v1.4h-1.4zM406.74 74.62h1.4v1.4h-1.4zM407.24 72.19h1.4v1.4h-1.4zM407.74 41.61h1.4v1.4h-1.4zM408.24 70.36h1.4v1.4h-1.4zM408.74 74.19h1.4v1.4h-1.4zM409.25 65.23h1.4v1.4h-1.4zM409.75 61.48h1.4v1.4h-1.4zM410.25 65.30h1.4v1.4h-1.4zM410.75 55.91h1.4v1.4h-1.4zM411.25 69.85h1.4v1.4h-1.4zM411.76 69.79h1.4v1.4h-1.4zM412.26 75.65h1.4v1.4h-1.4zM412.76 68.19h1.4v1.4h-1.4zM413.26 75.50h1.4v1.4h-1.4zM413.76 78.40h1.4v1.4h-1.4zM414.27 37.37h1.4v1.4h-1.4zM414.77 67.54h1.4v1.4h-1.4zM415.27 78.52h1.4v1.4h-1.4zM415.77 68.07h1.4v1.4h-1.4zM416.27 73.76h1.4v1.4h-1.4zM416.78 70.84h1.4v1.4h-1.4zM417.28 70.88h1.4v1.4h-1.4zM417.78 63.75h1.4v1.4h-1.4zM418.28 71.70h1.4v1.4h-1.4zM418.79 65.98h1.4v1.4h-1.4zM419.29 76.96h1.4v1.4h-1.4zM419.79 82.77h1.4v1.4h-1.4zM420.29 80.03h1.4v1.4h-1.4zM420.79 82.46h1.4v1.4h-1.4zM421.30 67.80h1.4v1.4h-1.4zM421.80 67.75h1.4v1.4h-1.4zM422.30 75.12h1.4v1.4h-1.4zM422.80 52.76h1.4v1.4h-1.4zM423.30 65.93h1.4v1.4h-1.4zM423.81 66.57h1.4v1.4h-1.4zM424.31 76.78h1.4v1.4h-1.4zM424.81 79.91h1.4v1.4h-1.4zM425.31 76.88h1.4v1.4h-1.4zM425.81 78.67h1.4v1.4h-1.4zM426.32 79.10h1.4v1.4h-1.4zM426.82 64.36h1.4v1.4h-1.4zM427.32 75.35h1.4v1.4h-1.4zM427.82 69.61h1.4v1.4h-1.4zM428.32 73.80h1.4v1.4h-1.4zM428.83 59.86h1.4v1.4h-1.4zM429.33 60.54h1.4v1.4h-1.4zM429.83 68.97h1.4v1.4h-1.4zM430.33 61.85h1.4v1.4h-1.4zM430.84 70.76h1.4v1.4h-1.4zM431.34 75.64h1.4v1.4h-1.4zM431.84 32.69h1.4v1.4h-1.4zM432.34 74.53h1.4v1.4h-1.4zM432.84 77.96h1.4v1.4h-1.4zM433.35 76.76h1.4v1.4h-1.4zM433.85 63.33h1.4v1.4h-1.4zM434.35 58.58h1.4v1.4h-1.4zM434.85 64.71h1.4v1.4h-1.4zM435.35 63.22h1.4v1.4h-1.4zM435.86 64.59h1.4v1.4h-1.4zM436.36 69.09h1.4v1.4h-1.4zM436.86 77.87h1.4v1.4h-1.4zM437.36 75.69h1.4v1.4h-1.4zM437.86 67.25h1.4v1.4h-1.4zM438.37 71.35h1.4v1.4h-1.4zM438.87 71.99h1.4v1.4h-1.4zM439.37 73.41h1.4v1.4h-1.4zM439.87 59.52h1.4v1.4h-1.4zM440.38 57.71h1.4v1.4h-1.4zM440.88 68.29h1.4v1.4h-1.4zM441.38 63.53h1.4v1.4h-1.4zM441.88 57.70h1.4v1.4h-1.4zM442.38 77.74h1.4v1.4h-1.4zM442.89 59.96h1.4v1.4h-1.4zM443.39 70.06h1.4v1.4h-1.4zM443.89 75.77h1.4v1.4h-1.4zM444.39 41.61h1.4v1.4h-1.4zM444.89 64.07h1.4v1.4h-1.4zM445.40 62.92h1.4v1.4h-1.4zM445.90 50.64h1.4v1.4h-1.4zM446.40 61.28h1.4v1.4h-1.4zM446.90 57.99h1.4v1.4h-1.4zM447.40 50.86h1.4v1.4h-1.4zM447.91 58.95h1.4v1.4h-1.4zM448.41 74.25h1.4v1.4h-1.4zM448.91 77.28h1.4v1.4h-1.4zM449.41 76.68h1.4v1.4h-1.4zM449.91 73.92h1.4v1.4h-1.4zM450.42 32.69h1.4v1.4h-1.4zM450.92 76.48h1.4v1.4h-1.4zM451.42 49.65h1.4v1.4h-1.4zM451.92 53.64h1.4v1.4h-1.4zM452.43 51.39h1.4v1.4h-1.4zM452.93 64.93h1.4v1.4h-1.4zM453.43 58.40h1.4v1.4h-1.4zM453.93 56.24h1.4v1.4h-1.4zM454.43 65.32h1.4v1.4h-1.4zM454.94 70.39h1.4v1.4h-1.4zM455.44 30.80h1.4v1.4h-1.4zM455.94 70.79h1.4v1.4h-1.4zM456.44 67.95h1.4v1.4h-1.4zM456.94 61.98h1.4v1.4h-1.4zM457.45 63.36h1.4v1.4h-1.4zM457.95 58.51h1.4v1.4h-1.4zM458.45 52.61h1.4v1.4h-1.4zM458.95 50.16h1.4v1.4h-1.4zM459.45 55.41h1.4v1.4h-1.4zM459.96 56.10h1.4v1.4h-1.4zM460.46 54.29h1.4v1.4h-1.4zM460.96 74.43h1.4v1.4h-1.4zM461.46 66.65h1.4v1.4h-1.4zM461.96 66.79h1.4v1.4h-1.4zM462.47 37.37h1.4v1.4h-1.4zM462.97 61.17h1.4v1.4h-1.4zM463.47 51.85h1.4v1.4h-1.4zM463.97 48.38h1.4v1.4h-1.4zM464.47 63.37h1.4v1.4h-1.4zM464.98 51.37h1.4v1.4h-1.4zM465.48 51.21h1.4v1.4h-1.4zM465.98 55.66h1.4v1.4h-1.4zM466.48 65.44h1.4v1.4h-1.4zM466.99 61.62h1.4v1.4h-1.4zM467.49 43.50h1.4v1.4h-1.4zM467.99 73.74h1.4v1.4h-1.4zM468.49 51.76h1.4v1.4h-1.4zM468.99 64.97h1.4v1.4h-1.4zM469.50 67.67h1.4v1.4h-1.4zM470.00 59.44h1.4v1.4h-1.4zM470.50 56.93h1.4v1.4h-1.4zM471.00 54.21h1.4v1.4h-1.4zM471.50 74.01h1.4v1.4h-1.4zM472.01 61.82h1.4v1.4h-1.4zM472.51 54.59h1.4v1.4h-1.4zM473.01 73.97h1.4v1.4h-1.4zM473.51 71.22h1.4v1.4h-1.4zM474.01 23.68h1.4v1.4h-1.4zM474.52 64.43h1.4v1.4h-1.4zM475.02 56.30h1.4v1.4h-1.4zM475.52 73.76h1.4v1.4h-1.4zM476.02 61.64h1.4v1.4h-1.4zM476.52 58.08h1.4v1.4h-1.4zM477.03 49.17h1.4v1.4h-1.4zM477.53 50.70h1.4v1.4h-1.4zM478.03 72.62h1.4v1.4h-1.4zM478.53 57.78h1.4v1.4h-1.4zM479.04 71.89h1.4v1.4h-1.4zM479.54 71.27h1.4v1.4h-1.4zM480.04 37.37h1.4v1.4h-1.4zM480.54 73.27h1.4v1.4h-1.4zM481.04 69.18h1.4v1.4h-1.4zM481.55 62.10h1.4v1.4h-1.4zM482.05 59.02h1.4v1.4h-1.4zM482.55 57.02h1.4v1.4h-1.4zM483.05 49.83h1.4v1.4h-1.4zM483.55 50.87h1.4v1.4h-1.4zM484.06 61.12h1.4v1.4h-1.4zM484.56 53.82h1.4v1.4h-1.4zM485.06 69.94h1.4v1.4h-1.4zM485.56 71.30h1.4v1.4h-1.4zM486.06 68.41h1.4v1.4h-1.4zM486.57 71.67h1.4v1.4h-1.4zM487.07 65.01h1.4v1.4h-1.4zM487.57 77.88h1.4v1.4h-1.4zM488.07 74.37h1.4v1.4h-1.4zM488.57 34.58h1.4v1.4h-1.4zM489.08 66.08h1.4v1.4h-1.4zM489.58 67.96h1.4v1.4h-1.4zM490.08 73.80h1.4v1.4h-1.4zM490.58 61.33h1.4v1.4h-1.4zM491.09 32.96h1.4v1.4h-1.4zM491.59 67.60h1.4v1.4h-1.4zM492.09 75.76h1.4v1.4h-1.4zM492.59 74.89h1.4v1.4h-1.4zM493.09 76.13h1.4v1.4h-1.4zM493.60 67.61h1.4v1.4h-1.4zM494.10 64.16h1.4v1.4h-1.4zM494.60 63.45h1.4v1.4h-1.4zM495.10 78.61h1.4v1.4h-1.4zM495.60 71.61h1.4v1.4h-1.4zM496.11 67.00h1.4v1.4h-1.4zM496.61 65.58h1.4v1.4h-1.4zM497.11 79.99h1.4v1.4h-1.4zM497.61 78.85h1.4v1.4h-1.4zM498.11 79.36h1.4v1.4h-1.4zM498.62 84.68h1.4v1.4h-1.4zM499.12 49.09h1.4v1.4h-1.4zM499.62 75.31h1.4v1.4h-1.4zM500.12 76.29h1.4v1.4h-1.4zM500.62 67.67h1.4v1.4h-1.4zM501.13 84.66h1.4v1.4h-1.4zM501.63 75.14h1.4v1.4h-1.4zM502.13 67.12h1.4v1.4h-1.4zM502.63 76.24h1.4v1.4h-1.4zM503.14 79.96h1.4v1.4h-1.4zM503.64 74.94h1.4v1.4h-1.4zM504.14 55.84h1.4v1.4h-1.4zM504.64 81.59h1.4v1.4h-1.4zM505.14 84.46h1.4v1.4h-1.4zM505.65 86.38h1.4v1.4h-1.4zM506.15 87.83h1.4v1.4h-1.4zM506.65 70.41h1.4v1.4h-1.4zM507.15 74.24h1.4v1.4h-1.4zM507.65 71.46h1.4v1.4h-1.4zM508.16 69.20h1.4v1.4h-1.4zM508.66 75.55h1.4v1.4h-1.4zM509.16 73.01h1.4v1.4h-1.4zM509.66 84.14h1.4v1.4h-1.4zM510.16 79.89h1.4v1.4h-1.4zM510.67 67.56h1.4v1.4h-1.4zM511.17 73.84h1.4v1.4h-1.4zM511.67 93.96h1.4v1.4h-1.4zM512.17 70.68h1.4v1.4h-1.4zM512.67 86.61h1.4v1.4h-1.4zM513.18 78.94h1.4v1.4h-1.4zM513.68 84.17h1.4v1.4h-1.4zM514.18 68.30h1.4v1.4h-1.4zM514.68 83.00h1.4v1.4h-1.4zM515.19 79.67h1.4v1.4h-1.4zM515.69 82.80h1.4v1.4h-1.4zM516.19 82.82h1.4v1.4h-1.4zM516.69 83.98h1.4v1.4h-1.4zM517.19 78.53h1.4v1.4h-1.4zM517.70 55.84h1.4v1.4h-1.4zM518.20 73.32h1.4v1.4h-1.4zM518.70 68.42h1.4v1.4h-1.4zM519.20 68.05h1.4v1.4h-1.4zM519.70 74.99h1.4v1.4h-1.4zM520.21 74.18h1.4v1.4h-1.4zM520.71 81.67h1.4v1.4h-1.4zM521.21 78.75h1.4v1.4h-1.4zM521.71 79.46h1.4v1.4h-1.4zM522.21 81.85h1.4v1.4h-1.4zM522.72 81.27h1.4v1.4h-1.4zM523.22 55.84h1.4v1.4h-1.4zM523.72 75.88h1.4v1.4h-1.4zM524.22 67.21h1.4v1.4h-1.4zM524.72 76.48h1.4v1.4h-1.4zM525.23 71.47h1.4v1.4h-1.4zM525.73 66.30h1.4v1.4h-1.4zM526.23 73.73h1.4v1.4h-1.4zM526.73 79.31h1.4v1.4h-1.4zM527.24 76.97h1.4v1.4h-1.4zM527.74 80.83h1.4v1.4h-1.4zM528.24 80.07h1.4v1.4h-1.4zM528.74 59.90h1.4v1.4h-1.4zM529.24 79.17h1.4v1.4h-1.4zM529.75 68.33h1.4v1.4h-1.4zM530.25 75.41h1.4v1.4h-1.4zM530.75 65.49h1.4v1.4h-1.4zM531.25 77.76h1.4v1.4h-1.4zM531.75 80.99h1.4v1.4h-1.4zM532.26 76.31h1.4v1.4h-1.4zM532.76 73.43h1.4v1.4h-1.4zM533.26 49.09h1.4v1.4h-1.4zM533.76 75.85h1.4v1.4h-1.4zM534.26 76.76h1.4v1.4h-1.4zM534.77 76.45h1.4v1.4h-1.4zM535.27 76.06h1.4v1.4h-1.4zM535.77 69.05h1.4v1.4h-1.4zM536.27 69.42h1.4v1.4h-1.4z" fill="#111"/>
<text x="506" y="23.7" class="ti" textLength="13" lengthAdjust="spacingAndGlyphs">Tr.</text>
<text x="523.1" y="124.6" class="yr" textLength="13.6" lengthAdjust="spacingAndGlyphs">year</text>
<text transform="translate(377.4 56.5) rotate(-90)" dy="0.36em" text-anchor="middle" class="yl" textLength="52.5" lengthAdjust="spacingAndGlyphs">Transparency (m)</text>
<rect x="4.5" y="135.5" width="172.0" height="123.0" fill="none" stroke="#f0f0f0" stroke-width="1"/>
<path d="M34.1 146.2V239.5H174.6" fill="none" stroke="#333" stroke-width="1.2"/>
<text x="28.2" y="241.2" text-anchor="end" class="t">0.00</text>
<text x="28.2" y="230.9" text-anchor="end" class="t">0.10</text>
<text x="28.2" y="220.5" text-anchor="end" class="t">0.20</text>
<text x="28.2" y="210.1" text-anchor="end" class="t">0.30</text>
<text x="28.2" y="199.8" text-anchor="end" class="t">0.40</text>
<text x="28.2" y="189.4" text-anchor="end" class="t">0.50</text>
<text x="28.2" y="179.0" text-anchor="end" class="t">0.60</text>
<text x="28.2" y="168.7" text-anchor="end" class="t">0.70</text>
<text x="28.2" y="158.3" text-anchor="end" class="t">0.80</text>
<text x="28.2" y="147.9" text-anchor="end" class="t">0.90</text>
<path d="M34.1 239.5v2.2" stroke="#222" stroke-width="0.9"/>
<text x="34.1" y="248.4" text-anchor="middle" class="t">2000</text>
<path d="M64.6 239.5v2.2" stroke="#222" stroke-width="0.9"/>
<text x="64.6" y="248.4" text-anchor="middle" class="t">2005</text>
<path d="M95.1 239.5v2.2" stroke="#222" stroke-width="0.9"/>
<text x="95.1" y="248.4" text-anchor="middle" class="t">2010</text>
<path d="M125.6 239.5v2.2" stroke="#222" stroke-width="0.9"/>
<text x="125.6" y="248.4" text-anchor="middle" class="t">2015</text>
<path d="M156.1 239.5v2.2" stroke="#222" stroke-width="0.9"/>
<text x="156.1" y="248.4" text-anchor="middle" class="t">2020</text>
<path d="M34.10 156.00 L34.61 202.55 L35.12 204.32 L35.62 217.54 L36.13 218.34 L36.64 209.10 L37.15 201.43 L37.66 217.99 L38.17 227.36 L38.68 229.44 L39.18 221.72 L39.69 200.30 L40.20 220.56 L40.71 220.60 L41.22 219.45 L41.73 222.76 L42.23 183.38 L42.74 226.37 L43.25 222.85 L43.76 212.69 L44.27 196.91 L44.77 199.06 L45.28 200.30 L45.79 204.09 L46.30 201.94 L46.81 204.81 L47.32 206.15 L47.83 209.32 L48.33 214.61 L48.84 224.13 L49.35 234.13 L49.86 229.31 L50.37 216.24 L50.88 213.08 L51.38 204.81 L51.89 213.01 L52.40 216.08 L52.91 211.63 L53.42 204.81 L53.92 201.70 L54.43 195.79 L54.94 206.99 L55.45 222.85 L55.96 220.67 L56.47 209.49 L56.98 204.81 L57.48 197.04 L57.99 193.53 L58.50 188.30 L59.01 185.21 L59.52 180.00 L60.02 194.12 L60.53 207.10 L61.04 216.08 L61.55 228.49 L62.06 223.12 L62.57 209.90 L63.08 202.55 L63.58 192.13 L64.09 186.77 L64.60 187.29 L65.11 192.41 L65.62 193.53 L66.12 201.55 L66.63 204.49 L67.14 209.32 L67.65 217.65 L68.16 228.49 L68.67 220.97 L69.17 216.08 L69.68 212.90 L70.19 213.93 L70.70 208.19 L71.21 208.26 L71.72 205.25 L72.22 207.06 L72.73 212.99 L73.24 223.51 L73.75 227.36 L74.26 223.72 L74.77 218.34 L75.28 215.97 L75.78 208.47 L76.29 207.52 L76.80 202.55 L77.31 208.46 L77.82 207.33 L78.32 211.57 L78.83 220.06 L79.34 233.00 L79.85 225.60 L80.36 218.34 L80.87 210.49 L81.38 198.04 L81.88 198.50 L82.39 203.16 L82.90 205.56 L83.41 209.32 L83.92 209.53 L84.42 213.42 L84.93 213.83 L85.44 218.59 L85.95 218.34 L86.46 217.59 L86.97 213.99 L87.47 213.71 L87.98 209.32 L88.49 212.03 L89.00 208.91 L89.51 213.83 L90.02 211.78 L90.52 218.39 L91.03 220.60 L91.54 219.38 L92.05 211.91 L92.56 212.10 L93.07 209.32 L93.57 209.51 L94.08 203.73 L94.59 204.81 L95.10 204.15 L95.61 208.63 L96.12 202.55 L96.62 206.43 L97.13 211.04 L97.64 213.83 L98.15 217.46 L98.66 224.89 L99.17 225.11 L99.68 219.75 L100.18 208.56 L100.69 202.55 L101.20 202.55 L101.71 212.43 L102.22 214.96 L102.72 225.11 L103.23 218.99 L103.74 222.85 L104.25 218.08 L104.76 209.32 L105.27 209.32 L105.78 225.11 L106.28 206.92 L106.79 194.66 L107.30 196.39 L107.81 204.39 L108.32 207.06 L108.82 211.50 L109.33 206.60 L109.84 211.22 L110.35 209.32 L110.86 217.06 L111.37 220.60 L111.88 220.07 L112.38 211.05 L112.89 211.57 L113.40 208.96 L113.91 214.02 L114.42 213.83 L114.93 217.02 L115.43 216.28 L115.94 226.43 L116.45 226.23 L116.96 218.55 L117.47 206.61 L117.97 213.49 L118.48 215.04 L118.99 222.85 L119.50 220.20 L120.01 219.21 L120.52 212.68 L121.03 212.41 L121.53 208.19 L122.04 214.47 L122.55 219.47 L123.06 216.56 L123.57 208.54 L124.08 207.18 L124.58 204.81 L125.09 217.77 L125.60 217.20 L126.11 220.60 L126.62 219.19 L127.12 218.34 L127.63 219.93 L128.14 224.44 L128.65 228.49 L129.16 226.35 L129.67 218.13 L130.17 219.81 L130.68 214.96 L131.19 221.18 L131.70 220.10 L132.21 225.11 L132.72 226.53 L133.22 229.82 L133.73 231.87 L134.24 227.59 L134.75 217.21 L135.26 224.27 L135.77 217.13 L136.28 224.42 L136.78 225.11 L137.29 220.15 L137.80 211.90 L138.31 209.32 L138.82 210.03 L139.32 219.76 L139.83 219.45 L140.34 225.11 L140.85 224.88 L141.36 229.04 L141.87 229.62 L142.38 218.49 L142.88 207.28 L143.39 201.43 L143.90 198.90 L144.41 200.30 L144.92 203.28 L145.42 213.47 L145.93 220.24 L146.44 225.11 L146.95 213.82 L147.46 208.89 L147.97 202.55 L148.47 201.07 L148.98 194.66 L149.49 200.20 L150.00 206.85 L150.51 220.60 L151.02 221.62 L151.53 233.03 L152.03 234.13 L152.54 227.73 L153.05 221.50 L153.56 214.96 L154.07 213.16 L154.57 213.09 L155.08 209.32 L155.59 209.04 L156.10 200.32 L156.61 200.30 L157.12 200.33 L157.62 207.13 L158.13 209.32 L158.64 215.32 L159.15 216.68 L159.66 222.85 L160.17 218.58 L160.67 219.15 L161.18 211.57 L161.69 213.64 L162.20 207.98 L162.71 207.06 L163.22 209.90 L163.72 215.41 L164.23 219.47 L164.74 223.17 L165.25 227.36 L165.76 224.31 L166.27 215.49 L166.77 218.59 L167.28 210.45 L167.79 215.20 L168.30 210.20 L168.81 213.83 L169.32 216.55 L169.82 221.72 L170.33 225.11 L170.84 227.22 L171.35 223.47 L171.86 223.98 L172.37 216.85 L172.88 216.99 L173.38 213.83" fill="none" stroke="#1c1c1c" stroke-width="0.95" stroke-linejoin="miter" stroke-miterlimit="3"/>
<path d="M33.40 155.30h1.4v1.4h-1.4zM33.91 201.85h1.4v1.4h-1.4zM34.42 203.62h1.4v1.4h-1.4zM34.92 216.84h1.4v1.4h-1.4zM35.43 217.64h1.4v1.4h-1.4zM35.94 208.40h1.4v1.4h-1.4zM36.45 200.73h1.4v1.4h-1.4zM36.96 217.29h1.4v1.4h-1.4zM37.47 226.66h1.4v1.4h-1.4zM37.98 228.74h1.4v1.4h-1.4zM38.48 221.02h1.4v1.4h-1.4zM38.99 199.60h1.4v1.4h-1.4zM39.50 219.86h1.4v1.4h-1.4zM40.01 219.90h1.4v1.4h-1.4zM40.52 218.75h1.4v1.4h-1.4zM41.02 222.06h1.4v1.4h-1.4zM41.53 182.68h1.4v1.4h-1.4zM42.04 225.67h1.4v1.4h-1.4zM42.55 222.15h1.4v1.4h-1.4zM43.06 211.99h1.4v1.4h-1.4zM43.57 196.21h1.4v1.4h-1.4zM44.07 198.36h1.4v1.4h-1.4zM44.58 199.60h1.4v1.4h-1.4zM45.09 203.39h1.4v1.4h-1.4zM45.60 201.24h1.4v1.4h-1.4zM46.11 204.11h1.4v1.4h-1.4zM46.62 205.45h1.4v1.4h-1.4zM47.12 208.62h1.4v1.4h-1.4zM47.63 213.91h1.4v1.4h-1.4zM48.14 223.43h1.4v1.4h-1.4zM48.65 233.43h1.4v1.4h-1.4zM49.16 228.61h1.4v1.4h-1.4zM49.67 215.54h1.4v1.4h-1.4zM50.17 212.38h1.4v1.4h-1.4zM50.68 204.11h1.4v1.4h-1.4zM51.19 212.31h1.4v1.4h-1.4zM51.70 215.38h1.4v1.4h-1.4zM52.21 210.93h1.4v1.4h-1.4zM52.72 204.11h1.4v1.4h-1.4zM53.22 201.00h1.4v1.4h-1.4zM53.73 195.09h1.4v1.4h-1.4zM54.24 206.29h1.4v1.4h-1.4zM54.75 222.15h1.4v1.4h-1.4zM55.26 219.97h1.4v1.4h-1.4zM55.77 208.79h1.4v1.4h-1.4zM56.27 204.11h1.4v1.4h-1.4zM56.78 196.34h1.4v1.4h-1.4zM57.29 192.83h1.4v1.4h-1.4zM57.80 187.60h1.4v1.4h-1.4zM58.31 184.51h1.4v1.4h-1.4zM58.82 179.30h1.4v1.4h-1.4zM59.32 193.42h1.4v1.4h-1.4zM59.83 206.40h1.4v1.4h-1.4zM60.34 215.38h1.4v1.4h-1.4zM60.85 227.79h1.4v1.4h-1.4zM61.36 222.42h1.4v1.4h-1.4zM61.87 209.20h1.4v1.4h-1.4zM62.38 201.85h1.4v1.4h-1.4zM62.88 191.43h1.4v1.4h-1.4zM63.39 186.07h1.4v1.4h-1.4zM63.90 186.59h1.4v1.4h-1.4zM64.41 191.71h1.4v1.4h-1.4zM64.92 192.83h1.4v1.4h-1.4zM65.42 200.85h1.4v1.4h-1.4zM65.93 203.79h1.4v1.4h-1.4zM66.44 208.62h1.4v1.4h-1.4zM66.95 216.95h1.4v1.4h-1.4zM67.46 227.79h1.4v1.4h-1.4zM67.97 220.27h1.4v1.4h-1.4zM68.47 215.38h1.4v1.4h-1.4zM68.98 212.20h1.4v1.4h-1.4zM69.49 213.23h1.4v1.4h-1.4zM70.00 207.49h1.4v1.4h-1.4zM70.51 207.56h1.4v1.4h-1.4zM71.02 204.55h1.4v1.4h-1.4zM71.52 206.36h1.4v1.4h-1.4zM72.03 212.29h1.4v1.4h-1.4zM72.54 222.81h1.4v1.4h-1.4zM73.05 226.66h1.4v1.4h-1.4zM73.56 223.02h1.4v1.4h-1.4zM74.07 217.64h1.4v1.4h-1.4zM74.58 215.27h1.4v1.4h-1.4zM75.08 207.77h1.4v1.4h-1.4zM75.59 206.82h1.4v1.4h-1.4zM76.10 201.85h1.4v1.4h-1.4zM76.61 207.76h1.4v1.4h-1.4zM77.12 206.63h1.4v1.4h-1.4zM77.62 210.87h1.4v1.4h-1.4zM78.13 219.36h1.4v1.4h-1.4zM78.64 232.30h1.4v1.4h-1.4zM79.15 224.90h1.4v1.4h-1.4zM79.66 217.64h1.4v1.4h-1.4zM80.17 209.79h1.4v1.4h-1.4zM80.67 197.34h1.4v1.4h-1.4zM81.18 197.80h1.4v1.4h-1.4zM81.69 202.46h1.4v1.4h-1.4zM82.20 204.86h1.4v1.4h-1.4zM82.71 208.62h1.4v1.4h-1.4zM83.22 208.83h1.4v1.4h-1.4zM83.72 212.72h1.4v1.4h-1.4zM84.23 213.13h1.4v1.4h-1.4zM84.74 217.89h1.4v1.4h-1.4zM85.25 217.64h1.4v1.4h-1.4zM85.76 216.89h1.4v1.4h-1.4zM86.27 213.29h1.4v1.4h-1.4zM86.77 213.01h1.4v1.4h-1.4zM87.28 208.62h1.4v1.4h-1.4zM87.79 211.33h1.4v1.4h-1.4zM88.30 208.21h1.4v1.4h-1.4zM88.81 213.13h1.4v1.4h-1.4zM89.32 211.08h1.4v1.4h-1.4zM89.82 217.69h1.4v1.4h-1.4zM90.33 219.90h1.4v1.4h-1.4zM90.84 218.68h1.4v1.4h-1.4zM91.35 211.21h1.4v1.4h-1.4zM91.86 211.40h1.4v1.4h-1.4zM92.37 208.62h1.4v1.4h-1.4zM92.87 208.81h1.4v1.4h-1.4zM93.38 203.03h1.4v1.4h-1.4zM93.89 204.11h1.4v1.4h-1.4zM94.40 203.45h1.4v1.4h-1.4zM94.91 207.93h1.4v1.4h-1.4zM95.42 201.85h1.4v1.4h-1.4zM95.92 205.73h1.4v1.4h-1.4zM96.43 210.34h1.4v1.4h-1.4zM96.94 213.13h1.4v1.4h-1.4zM97.45 216.76h1.4v1.4h-1.4zM97.96 224.19h1.4v1.4h-1.4zM98.47 224.41h1.4v1.4h-1.4zM98.98 219.05h1.4v1.4h-1.4zM99.48 207.86h1.4v1.4h-1.4zM99.99 201.85h1.4v1.4h-1.4zM100.50 201.85h1.4v1.4h-1.4zM101.01 211.73h1.4v1.4h-1.4zM101.52 214.26h1.4v1.4h-1.4zM102.02 224.41h1.4v1.4h-1.4zM102.53 218.29h1.4v1.4h-1.4zM103.04 222.15h1.4v1.4h-1.4zM103.55 217.38h1.4v1.4h-1.4zM104.06 208.62h1.4v1.4h-1.4zM104.57 208.62h1.4v1.4h-1.4zM105.08 224.41h1.4v1.4h-1.4zM105.58 206.22h1.4v1.4h-1.4zM106.09 193.96h1.4v1.4h-1.4zM106.60 195.69h1.4v1.4h-1.4zM107.11 203.69h1.4v1.4h-1.4zM107.62 206.36h1.4v1.4h-1.4zM108.12 210.80h1.4v1.4h-1.4zM108.63 205.90h1.4v1.4h-1.4zM109.14 210.52h1.4v1.4h-1.4zM109.65 208.62h1.4v1.4h-1.4zM110.16 216.36h1.4v1.4h-1.4zM110.67 219.90h1.4v1.4h-1.4zM111.17 219.37h1.4v1.4h-1.4zM111.68 210.35h1.4v1.4h-1.4zM112.19 210.87h1.4v1.4h-1.4zM112.70 208.26h1.4v1.4h-1.4zM113.21 213.32h1.4v1.4h-1.4zM113.72 213.13h1.4v1.4h-1.4zM114.23 216.32h1.4v1.4h-1.4zM114.73 215.58h1.4v1.4h-1.4zM115.24 225.73h1.4v1.4h-1.4zM115.75 225.53h1.4v1.4h-1.4zM116.26 217.85h1.4v1.4h-1.4zM116.77 205.91h1.4v1.4h-1.4zM117.27 212.79h1.4v1.4h-1.4zM117.78 214.34h1.4v1.4h-1.4zM118.29 222.15h1.4v1.4h-1.4zM118.80 219.50h1.4v1.4h-1.4zM119.31 218.51h1.4v1.4h-1.4zM119.82 211.98h1.4v1.4h-1.4zM120.33 211.71h1.4v1.4h-1.4zM120.83 207.49h1.4v1.4h-1.4zM121.34 213.77h1.4v1.4h-1.4zM121.85 218.77h1.4v1.4h-1.4zM122.36 215.86h1.4v1.4h-1.4zM122.87 207.84h1.4v1.4h-1.4zM123.38 206.48h1.4v1.4h-1.4zM123.88 204.11h1.4v1.4h-1.4zM124.39 217.07h1.4v1.4h-1.4zM124.90 216.50h1.4v1.4h-1.4zM125.41 219.90h1.4v1.4h-1.4zM125.92 218.49h1.4v1.4h-1.4zM126.42 217.64h1.4v1.4h-1.4zM126.93 219.23h1.4v1.4h-1.4zM127.44 223.74h1.4v1.4h-1.4zM127.95 227.79h1.4v1.4h-1.4zM128.46 225.65h1.4v1.4h-1.4zM128.97 217.43h1.4v1.4h-1.4zM129.47 219.11h1.4v1.4h-1.4zM129.98 214.26h1.4v1.4h-1.4zM130.49 220.48h1.4v1.4h-1.4zM131.00 219.40h1.4v1.4h-1.4zM131.51 224.41h1.4v1.4h-1.4zM132.02 225.83h1.4v1.4h-1.4zM132.53 229.12h1.4v1.4h-1.4zM133.03 231.17h1.4v1.4h-1.4zM133.54 226.89h1.4v1.4h-1.4zM134.05 216.51h1.4v1.4h-1.4zM134.56 223.57h1.4v1.4h-1.4zM135.07 216.43h1.4v1.4h-1.4zM135.58 223.72h1.4v1.4h-1.4zM136.08 224.41h1.4v1.4h-1.4zM136.59 219.45h1.4v1.4h-1.4zM137.10 211.20h1.4v1.4h-1.4zM137.61 208.62h1.4v1.4h-1.4zM138.12 209.33h1.4v1.4h-1.4zM138.62 219.06h1.4v1.4h-1.4zM139.13 218.75h1.4v1.4h-1.4zM139.64 224.41h1.4v1.4h-1.4zM140.15 224.18h1.4v1.4h-1.4zM140.66 228.34h1.4v1.4h-1.4zM141.17 228.92h1.4v1.4h-1.4zM141.68 217.79h1.4v1.4h-1.4zM142.18 206.58h1.4v1.4h-1.4zM142.69 200.73h1.4v1.4h-1.4zM143.20 198.20h1.4v1.4h-1.4zM143.71 199.60h1.4v1.4h-1.4zM144.22 202.58h1.4v1.4h-1.4zM144.72 212.77h1.4v1.4h-1.4zM145.23 219.54h1.4v1.4h-1.4zM145.74 224.41h1.4v1.4h-1.4zM146.25 213.12h1.4v1.4h-1.4zM146.76 208.19h1.4v1.4h-1.4zM147.27 201.85h1.4v1.4h-1.4zM147.78 200.37h1.4v1.4h-1.4zM148.28 193.96h1.4v1.4h-1.4zM148.79 199.50h1.4v1.4h-1.4zM149.30 206.15h1.4v1.4h-1.4zM149.81 219.90h1.4v1.4h-1.4zM150.32 220.92h1.4v1.4h-1.4zM150.83 232.33h1.4v1.4h-1.4zM151.33 233.43h1.4v1.4h-1.4zM151.84 227.03h1.4v1.4h-1.4zM152.35 220.80h1.4v1.4h-1.4zM152.86 214.26h1.4v1.4h-1.4zM153.37 212.46h1.4v1.4h-1.4zM153.88 212.39h1.4v1.4h-1.4zM154.38 208.62h1.4v1.4h-1.4zM154.89 208.34h1.4v1.4h-1.4zM155.40 199.62h1.4v1.4h-1.4zM155.91 199.60h1.4v1.4h-1.4zM156.42 199.63h1.4v1.4h-1.4zM156.93 206.43h1.4v1.4h-1.4zM157.43 208.62h1.4v1.4h-1.4zM157.94 214.62h1.4v1.4h-1.4zM158.45 215.98h1.4v1.4h-1.4zM158.96 222.15h1.4v1.4h-1.4zM159.47 217.88h1.4v1.4h-1.4zM159.97 218.45h1.4v1.4h-1.4zM160.48 210.87h1.4v1.4h-1.4zM160.99 212.94h1.4v1.4h-1.4zM161.50 207.28h1.4v1.4h-1.4zM162.01 206.36h1.4v1.4h-1.4zM162.52 209.20h1.4v1.4h-1.4zM163.03 214.71h1.4v1.4h-1.4zM163.53 218.77h1.4v1.4h-1.4zM164.04 222.47h1.4v1.4h-1.4zM164.55 226.66h1.4v1.4h-1.4zM165.06 223.61h1.4v1.4h-1.4zM165.57 214.79h1.4v1.4h-1.4zM166.07 217.89h1.4v1.4h-1.4zM166.58 209.75h1.4v1.4h-1.4zM167.09 214.50h1.4v1.4h-1.4zM167.60 209.50h1.4v1.4h-1.4zM168.11 213.13h1.4v1.4h-1.4zM168.62 215.85h1.4v1.4h-1.4zM169.12 221.02h1.4v1.4h-1.4zM169.63 224.41h1.4v1.4h-1.4zM170.14 226.52h1.4v1.4h-1.4zM170.65 222.77h1.4v1.4h-1.4zM171.16 223.28h1.4v1.4h-1.4zM171.67 216.15h1.4v1.4h-1.4zM172.18 216.29h1.4v1.4h-1.4zM172.68 213.13h1.4v1.4h-1.4z" fill="#111"/>
<text x="138.0" y="155.8" class="ti" textLength="14.8" lengthAdjust="spacingAndGlyphs">TN</text>
<text x="158.2" y="254.3" class="yr" textLength="13.6" lengthAdjust="spacingAndGlyphs">year</text>
<text transform="translate(11.5 194.1) rotate(-90)" dy="0.36em" text-anchor="middle" class="yl" textLength="59.4" lengthAdjust="spacingAndGlyphs">Total Nitrogen (mg/L)</text>
<rect x="186.5" y="135.5" width="171.0" height="131.0" fill="none" stroke="#f0f0f0" stroke-width="1"/>
<path d="M212.5 146.2V239.3H356.7" fill="none" stroke="#333" stroke-width="1.2"/>
<text x="207.4" y="241.1" text-anchor="end" class="t">0.000</text>
<text x="207.4" y="227.8" text-anchor="end" class="t">0.010</text>
<text x="207.4" y="214.5" text-anchor="end" class="t">0.020</text>
<text x="207.4" y="201.2" text-anchor="end" class="t">0.030</text>
<text x="207.4" y="187.9" text-anchor="end" class="t">0.040</text>
<text x="207.4" y="174.6" text-anchor="end" class="t">0.050</text>
<text x="207.4" y="161.2" text-anchor="end" class="t">0.060</text>
<text x="207.4" y="147.9" text-anchor="end" class="t">0.070</text>
<path d="M212.5 239.3v2.2" stroke="#222" stroke-width="0.9"/>
<text x="212.5" y="247.8" text-anchor="middle" class="t">2000</text>
<path d="M243.7 239.3v2.2" stroke="#222" stroke-width="0.9"/>
<text x="243.7" y="247.8" text-anchor="middle" class="t">2005</text>
<path d="M274.8 239.3v2.2" stroke="#222" stroke-width="0.9"/>
<text x="274.8" y="247.8" text-anchor="middle" class="t">2010</text>
<path d="M305.9 239.3v2.2" stroke="#222" stroke-width="0.9"/>
<text x="305.9" y="247.8" text-anchor="middle" class="t">2015</text>
<path d="M337.1 239.3v2.2" stroke="#222" stroke-width="0.9"/>
<text x="337.1" y="247.8" text-anchor="middle" class="t">2020</text>
<path d="M213.54 228.85 L214.06 226.83 L214.58 223.43 L215.10 220.39 L215.62 218.38 L216.13 217.12 L216.65 216.16 L217.17 228.85 L217.69 225.16 L218.21 230.55 L218.73 226.11 L219.25 222.08 L219.77 224.65 L220.29 229.70 L220.81 229.71 L221.33 231.31 L221.84 217.00 L222.36 233.28 L222.88 230.55 L223.40 225.47 L223.92 220.22 L224.44 218.57 L224.96 213.62 L225.48 222.27 L226.00 227.16 L226.52 224.89 L227.04 222.08 L227.56 215.31 L228.07 216.39 L228.59 228.85 L229.11 230.70 L229.63 233.93 L230.15 227.79 L230.67 211.08 L231.19 223.85 L231.71 226.72 L232.23 225.47 L232.75 221.87 L233.27 218.70 L233.79 224.28 L234.31 223.77 L234.82 227.25 L235.34 225.58 L235.86 227.16 L236.38 217.13 L236.90 207.69 L237.42 208.97 L237.94 211.93 L238.46 202.71 L238.98 202.62 L239.50 217.00 L240.02 219.99 L240.53 222.08 L241.05 227.16 L241.57 226.09 L242.09 228.85 L242.61 226.45 L243.13 224.62 L243.65 219.54 L244.17 223.16 L244.69 225.47 L245.21 228.42 L245.73 228.85 L246.25 226.92 L246.76 224.62 L247.28 229.96 L247.80 232.14 L248.32 235.62 L248.84 225.76 L249.36 222.93 L249.88 225.81 L250.40 231.39 L250.92 226.78 L251.44 222.93 L251.96 223.77 L252.48 233.93 L253.00 230.10 L253.51 225.47 L254.03 225.22 L254.55 229.88 L255.07 231.39 L255.59 226.21 L256.11 222.93 L256.63 229.16 L257.15 231.39 L257.67 232.02 L258.19 217.85 L258.71 233.18 L259.23 230.55 L259.74 232.90 L260.26 233.93 L260.78 230.14 L261.30 222.79 L261.82 220.39 L262.34 226.33 L262.86 232.24 L263.38 231.24 L263.90 236.18 L264.42 234.78 L264.94 233.24 L265.45 230.55 L265.97 235.08 L266.49 234.78 L267.01 235.59 L267.53 227.97 L268.05 228.29 L268.57 226.31 L269.09 227.42 L269.61 224.71 L270.13 225.47 L270.65 225.85 L271.17 226.31 L271.69 226.95 L272.20 235.61 L272.72 234.78 L273.24 231.98 L273.76 225.47 L274.28 227.82 L274.80 225.32 L275.32 202.62 L275.84 226.31 L276.36 227.06 L276.88 227.16 L277.40 231.54 L277.92 230.55 L278.43 229.96 L278.95 225.47 L279.47 224.44 L279.99 220.39 L280.51 222.88 L281.03 224.66 L281.55 228.85 L282.07 228.01 L282.59 231.15 L283.11 225.76 L283.63 230.55 L284.14 229.18 L284.66 234.93 L285.18 233.93 L285.70 227.93 L286.22 222.93 L286.74 228.74 L287.26 231.39 L287.78 230.30 L288.30 222.08 L288.82 225.92 L289.34 228.53 L289.86 230.55 L290.38 231.93 L290.89 233.08 L291.41 228.37 L291.93 224.62 L292.45 223.75 L292.97 228.06 L293.49 229.70 L294.01 230.26 L294.53 225.47 L295.05 224.96 L295.57 220.39 L296.09 233.63 L296.61 234.78 L297.12 230.56 L297.64 225.47 L298.16 227.51 L298.68 228.01 L299.20 234.37 L299.72 223.79 L300.24 227.16 L300.76 226.82 L301.28 228.85 L301.80 226.04 L302.32 228.54 L302.83 226.31 L303.35 228.03 L303.87 224.62 L304.39 229.82 L304.91 226.64 L305.43 233.08 L305.95 227.87 L306.47 222.93 L306.99 227.87 L307.51 233.08 L308.03 227.86 L308.55 225.47 L309.06 223.53 L309.58 224.88 L310.10 222.93 L310.62 222.34 L311.14 220.39 L311.66 224.31 L312.18 227.16 L312.70 226.42 L313.22 224.62 L313.74 224.49 L314.26 222.08 L314.78 225.94 L315.30 228.01 L315.81 231.30 L316.33 223.48 L316.85 223.77 L317.37 219.05 L317.89 217.00 L318.41 217.27 L318.93 222.93 L319.45 221.01 L319.97 222.08 L320.49 220.72 L321.01 223.77 L321.53 223.77 L322.04 224.00 L322.56 222.93 L323.08 225.57 L323.60 222.04 L324.12 224.62 L324.64 222.19 L325.16 220.39 L325.68 215.55 L326.20 213.62 L326.72 230.55 L327.24 231.36 L327.75 150.70 L328.27 232.20 L328.79 231.39 L329.31 220.39 L329.83 220.91 L330.35 200.08 L330.87 222.93 L331.39 227.99 L331.91 230.55 L332.43 229.16 L332.95 223.77 L333.47 226.74 L333.99 209.39 L334.50 232.88 L335.02 231.10 L335.54 233.08 L336.06 225.47 L336.58 222.28 L337.10 215.31 L337.62 230.55 L338.14 226.81 L338.66 222.08 L339.18 226.58 L339.70 231.39 L340.22 220.39 L340.73 227.67 L341.25 229.70 L341.77 222.35 L342.29 217.85 L342.81 226.30 L343.33 228.85 L343.85 227.41 L344.37 222.93 L344.89 227.46 L345.41 226.29 L345.93 233.08 L346.45 226.75 L346.96 223.77 L347.48 218.97 L348.00 218.94 L348.52 211.48 L349.04 209.39 L349.56 213.62 L350.08 221.33 L350.60 230.55 L351.12 230.43 L351.64 228.85 L352.16 227.35 L352.68 222.93 L353.19 222.18 L353.71 217.85 L354.23 218.01 L354.75 215.68 L355.27 216.16" fill="none" stroke="#1c1c1c" stroke-width="0.95" stroke-linejoin="miter" stroke-miterlimit="3"/>
<path d="M212.84 228.15h1.4v1.4h-1.4zM213.36 226.13h1.4v1.4h-1.4zM213.88 222.73h1.4v1.4h-1.4zM214.40 219.69h1.4v1.4h-1.4zM214.92 217.68h1.4v1.4h-1.4zM215.43 216.42h1.4v1.4h-1.4zM215.95 215.46h1.4v1.4h-1.4zM216.47 228.15h1.4v1.4h-1.4zM216.99 224.46h1.4v1.4h-1.4zM217.51 229.85h1.4v1.4h-1.4zM218.03 225.41h1.4v1.4h-1.4zM218.55 221.38h1.4v1.4h-1.4zM219.07 223.95h1.4v1.4h-1.4zM219.59 229.00h1.4v1.4h-1.4zM220.11 229.01h1.4v1.4h-1.4zM220.63 230.61h1.4v1.4h-1.4zM221.15 216.30h1.4v1.4h-1.4zM221.66 232.58h1.4v1.4h-1.4zM222.18 229.85h1.4v1.4h-1.4zM222.70 224.77h1.4v1.4h-1.4zM223.22 219.52h1.4v1.4h-1.4zM223.74 217.87h1.4v1.4h-1.4zM224.26 212.92h1.4v1.4h-1.4zM224.78 221.57h1.4v1.4h-1.4zM225.30 226.46h1.4v1.4h-1.4zM225.82 224.19h1.4v1.4h-1.4zM226.34 221.38h1.4v1.4h-1.4zM226.86 214.61h1.4v1.4h-1.4zM227.38 215.69h1.4v1.4h-1.4zM227.89 228.15h1.4v1.4h-1.4zM228.41 230.00h1.4v1.4h-1.4zM228.93 233.23h1.4v1.4h-1.4zM229.45 227.09h1.4v1.4h-1.4zM229.97 210.38h1.4v1.4h-1.4zM230.49 223.15h1.4v1.4h-1.4zM231.01 226.02h1.4v1.4h-1.4zM231.53 224.77h1.4v1.4h-1.4zM232.05 221.17h1.4v1.4h-1.4zM232.57 218.00h1.4v1.4h-1.4zM233.09 223.58h1.4v1.4h-1.4zM233.61 223.07h1.4v1.4h-1.4zM234.12 226.55h1.4v1.4h-1.4zM234.64 224.88h1.4v1.4h-1.4zM235.16 226.46h1.4v1.4h-1.4zM235.68 216.43h1.4v1.4h-1.4zM236.20 206.99h1.4v1.4h-1.4zM236.72 208.27h1.4v1.4h-1.4zM237.24 211.23h1.4v1.4h-1.4zM237.76 202.01h1.4v1.4h-1.4zM238.28 201.92h1.4v1.4h-1.4zM238.80 216.30h1.4v1.4h-1.4zM239.32 219.29h1.4v1.4h-1.4zM239.84 221.38h1.4v1.4h-1.4zM240.35 226.46h1.4v1.4h-1.4zM240.87 225.39h1.4v1.4h-1.4zM241.39 228.15h1.4v1.4h-1.4zM241.91 225.75h1.4v1.4h-1.4zM242.43 223.92h1.4v1.4h-1.4zM242.95 218.84h1.4v1.4h-1.4zM243.47 222.46h1.4v1.4h-1.4zM243.99 224.77h1.4v1.4h-1.4zM244.51 227.72h1.4v1.4h-1.4zM245.03 228.15h1.4v1.4h-1.4zM245.55 226.22h1.4v1.4h-1.4zM246.06 223.92h1.4v1.4h-1.4zM246.58 229.26h1.4v1.4h-1.4zM247.10 231.44h1.4v1.4h-1.4zM247.62 234.92h1.4v1.4h-1.4zM248.14 225.06h1.4v1.4h-1.4zM248.66 222.23h1.4v1.4h-1.4zM249.18 225.11h1.4v1.4h-1.4zM249.70 230.69h1.4v1.4h-1.4zM250.22 226.08h1.4v1.4h-1.4zM250.74 222.23h1.4v1.4h-1.4zM251.26 223.07h1.4v1.4h-1.4zM251.78 233.23h1.4v1.4h-1.4zM252.30 229.40h1.4v1.4h-1.4zM252.81 224.77h1.4v1.4h-1.4zM253.33 224.52h1.4v1.4h-1.4zM253.85 229.18h1.4v1.4h-1.4zM254.37 230.69h1.4v1.4h-1.4zM254.89 225.51h1.4v1.4h-1.4zM255.41 222.23h1.4v1.4h-1.4zM255.93 228.46h1.4v1.4h-1.4zM256.45 230.69h1.4v1.4h-1.4zM256.97 231.32h1.4v1.4h-1.4zM257.49 217.15h1.4v1.4h-1.4zM258.01 232.48h1.4v1.4h-1.4zM258.53 229.85h1.4v1.4h-1.4zM259.04 232.20h1.4v1.4h-1.4zM259.56 233.23h1.4v1.4h-1.4zM260.08 229.44h1.4v1.4h-1.4zM260.60 222.09h1.4v1.4h-1.4zM261.12 219.69h1.4v1.4h-1.4zM261.64 225.63h1.4v1.4h-1.4zM262.16 231.54h1.4v1.4h-1.4zM262.68 230.54h1.4v1.4h-1.4zM263.20 235.48h1.4v1.4h-1.4zM263.72 234.08h1.4v1.4h-1.4zM264.24 232.54h1.4v1.4h-1.4zM264.75 229.85h1.4v1.4h-1.4zM265.27 234.38h1.4v1.4h-1.4zM265.79 234.08h1.4v1.4h-1.4zM266.31 234.89h1.4v1.4h-1.4zM266.83 227.27h1.4v1.4h-1.4zM267.35 227.59h1.4v1.4h-1.4zM267.87 225.61h1.4v1.4h-1.4zM268.39 226.72h1.4v1.4h-1.4zM268.91 224.01h1.4v1.4h-1.4zM269.43 224.77h1.4v1.4h-1.4zM269.95 225.15h1.4v1.4h-1.4zM270.47 225.61h1.4v1.4h-1.4zM270.99 226.25h1.4v1.4h-1.4zM271.50 234.91h1.4v1.4h-1.4zM272.02 234.08h1.4v1.4h-1.4zM272.54 231.28h1.4v1.4h-1.4zM273.06 224.77h1.4v1.4h-1.4zM273.58 227.12h1.4v1.4h-1.4zM274.10 224.62h1.4v1.4h-1.4zM274.62 201.92h1.4v1.4h-1.4zM275.14 225.61h1.4v1.4h-1.4zM275.66 226.36h1.4v1.4h-1.4zM276.18 226.46h1.4v1.4h-1.4zM276.70 230.84h1.4v1.4h-1.4zM277.22 229.85h1.4v1.4h-1.4zM277.73 229.26h1.4v1.4h-1.4zM278.25 224.77h1.4v1.4h-1.4zM278.77 223.74h1.4v1.4h-1.4zM279.29 219.69h1.4v1.4h-1.4zM279.81 222.18h1.4v1.4h-1.4zM280.33 223.96h1.4v1.4h-1.4zM280.85 228.15h1.4v1.4h-1.4zM281.37 227.31h1.4v1.4h-1.4zM281.89 230.45h1.4v1.4h-1.4zM282.41 225.06h1.4v1.4h-1.4zM282.93 229.85h1.4v1.4h-1.4zM283.44 228.48h1.4v1.4h-1.4zM283.96 234.23h1.4v1.4h-1.4zM284.48 233.23h1.4v1.4h-1.4zM285.00 227.23h1.4v1.4h-1.4zM285.52 222.23h1.4v1.4h-1.4zM286.04 228.04h1.4v1.4h-1.4zM286.56 230.69h1.4v1.4h-1.4zM287.08 229.60h1.4v1.4h-1.4zM287.60 221.38h1.4v1.4h-1.4zM288.12 225.22h1.4v1.4h-1.4zM288.64 227.83h1.4v1.4h-1.4zM289.16 229.85h1.4v1.4h-1.4zM289.68 231.23h1.4v1.4h-1.4zM290.19 232.38h1.4v1.4h-1.4zM290.71 227.67h1.4v1.4h-1.4zM291.23 223.92h1.4v1.4h-1.4zM291.75 223.05h1.4v1.4h-1.4zM292.27 227.36h1.4v1.4h-1.4zM292.79 229.00h1.4v1.4h-1.4zM293.31 229.56h1.4v1.4h-1.4zM293.83 224.77h1.4v1.4h-1.4zM294.35 224.26h1.4v1.4h-1.4zM294.87 219.69h1.4v1.4h-1.4zM295.39 232.93h1.4v1.4h-1.4zM295.91 234.08h1.4v1.4h-1.4zM296.42 229.86h1.4v1.4h-1.4zM296.94 224.77h1.4v1.4h-1.4zM297.46 226.81h1.4v1.4h-1.4zM297.98 227.31h1.4v1.4h-1.4zM298.50 233.67h1.4v1.4h-1.4zM299.02 223.09h1.4v1.4h-1.4zM299.54 226.46h1.4v1.4h-1.4zM300.06 226.12h1.4v1.4h-1.4zM300.58 228.15h1.4v1.4h-1.4zM301.10 225.34h1.4v1.4h-1.4zM301.62 227.84h1.4v1.4h-1.4zM302.13 225.61h1.4v1.4h-1.4zM302.65 227.33h1.4v1.4h-1.4zM303.17 223.92h1.4v1.4h-1.4zM303.69 229.12h1.4v1.4h-1.4zM304.21 225.94h1.4v1.4h-1.4zM304.73 232.38h1.4v1.4h-1.4zM305.25 227.17h1.4v1.4h-1.4zM305.77 222.23h1.4v1.4h-1.4zM306.29 227.17h1.4v1.4h-1.4zM306.81 232.38h1.4v1.4h-1.4zM307.33 227.16h1.4v1.4h-1.4zM307.85 224.77h1.4v1.4h-1.4zM308.37 222.83h1.4v1.4h-1.4zM308.88 224.18h1.4v1.4h-1.4zM309.40 222.23h1.4v1.4h-1.4zM309.92 221.64h1.4v1.4h-1.4zM310.44 219.69h1.4v1.4h-1.4zM310.96 223.61h1.4v1.4h-1.4zM311.48 226.46h1.4v1.4h-1.4zM312.00 225.72h1.4v1.4h-1.4zM312.52 223.92h1.4v1.4h-1.4zM313.04 223.79h1.4v1.4h-1.4zM313.56 221.38h1.4v1.4h-1.4zM314.08 225.24h1.4v1.4h-1.4zM314.60 227.31h1.4v1.4h-1.4zM315.11 230.60h1.4v1.4h-1.4zM315.63 222.78h1.4v1.4h-1.4zM316.15 223.07h1.4v1.4h-1.4zM316.67 218.35h1.4v1.4h-1.4zM317.19 216.30h1.4v1.4h-1.4zM317.71 216.57h1.4v1.4h-1.4zM318.23 222.23h1.4v1.4h-1.4zM318.75 220.31h1.4v1.4h-1.4zM319.27 221.38h1.4v1.4h-1.4zM319.79 220.02h1.4v1.4h-1.4zM320.31 223.07h1.4v1.4h-1.4zM320.83 223.07h1.4v1.4h-1.4zM321.34 223.30h1.4v1.4h-1.4zM321.86 222.23h1.4v1.4h-1.4zM322.38 224.87h1.4v1.4h-1.4zM322.90 221.34h1.4v1.4h-1.4zM323.42 223.92h1.4v1.4h-1.4zM323.94 221.49h1.4v1.4h-1.4zM324.46 219.69h1.4v1.4h-1.4zM324.98 214.85h1.4v1.4h-1.4zM325.50 212.92h1.4v1.4h-1.4zM326.02 229.85h1.4v1.4h-1.4zM326.54 230.66h1.4v1.4h-1.4zM327.06 150.00h1.4v1.4h-1.4zM327.57 231.50h1.4v1.4h-1.4zM328.09 230.69h1.4v1.4h-1.4zM328.61 219.69h1.4v1.4h-1.4zM329.13 220.21h1.4v1.4h-1.4zM329.65 199.38h1.4v1.4h-1.4zM330.17 222.23h1.4v1.4h-1.4zM330.69 227.29h1.4v1.4h-1.4zM331.21 229.85h1.4v1.4h-1.4zM331.73 228.46h1.4v1.4h-1.4zM332.25 223.07h1.4v1.4h-1.4zM332.77 226.04h1.4v1.4h-1.4zM333.29 208.69h1.4v1.4h-1.4zM333.80 232.18h1.4v1.4h-1.4zM334.32 230.40h1.4v1.4h-1.4zM334.84 232.38h1.4v1.4h-1.4zM335.36 224.77h1.4v1.4h-1.4zM335.88 221.58h1.4v1.4h-1.4zM336.40 214.61h1.4v1.4h-1.4zM336.92 229.85h1.4v1.4h-1.4zM337.44 226.11h1.4v1.4h-1.4zM337.96 221.38h1.4v1.4h-1.4zM338.48 225.88h1.4v1.4h-1.4zM339.00 230.69h1.4v1.4h-1.4zM339.52 219.69h1.4v1.4h-1.4zM340.03 226.97h1.4v1.4h-1.4zM340.55 229.00h1.4v1.4h-1.4zM341.07 221.65h1.4v1.4h-1.4zM341.59 217.15h1.4v1.4h-1.4zM342.11 225.60h1.4v1.4h-1.4zM342.63 228.15h1.4v1.4h-1.4zM343.15 226.71h1.4v1.4h-1.4zM343.67 222.23h1.4v1.4h-1.4zM344.19 226.76h1.4v1.4h-1.4zM344.71 225.59h1.4v1.4h-1.4zM345.23 232.38h1.4v1.4h-1.4zM345.75 226.05h1.4v1.4h-1.4zM346.26 223.07h1.4v1.4h-1.4zM346.78 218.27h1.4v1.4h-1.4zM347.30 218.24h1.4v1.4h-1.4zM347.82 210.78h1.4v1.4h-1.4zM348.34 208.69h1.4v1.4h-1.4zM348.86 212.92h1.4v1.4h-1.4zM349.38 220.63h1.4v1.4h-1.4zM349.90 229.85h1.4v1.4h-1.4zM350.42 229.73h1.4v1.4h-1.4zM350.94 228.15h1.4v1.4h-1.4zM351.46 226.65h1.4v1.4h-1.4zM351.98 222.23h1.4v1.4h-1.4zM352.49 221.48h1.4v1.4h-1.4zM353.01 217.15h1.4v1.4h-1.4zM353.53 217.31h1.4v1.4h-1.4zM354.05 214.98h1.4v1.4h-1.4zM354.57 215.46h1.4v1.4h-1.4z" fill="#111"/>
<text x="300.2" y="156.4" class="ti" textLength="14" lengthAdjust="spacingAndGlyphs">TP</text>
<text x="340.9" y="257.8" class="yr" textLength="12.7" lengthAdjust="spacingAndGlyphs">year</text>
<text transform="translate(191.3 192.5) rotate(-90)" dy="0.36em" text-anchor="middle" class="yl" textLength="68" lengthAdjust="spacingAndGlyphs">Total Phosphate (mg/L)</text>
</svg>
</body></html>
